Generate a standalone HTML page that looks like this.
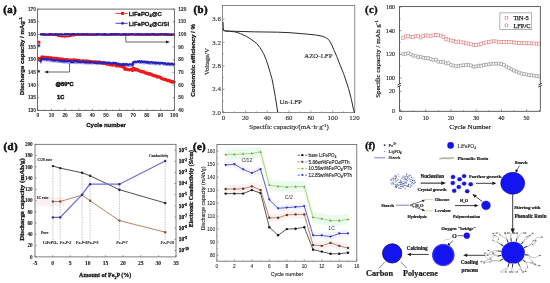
<!DOCTYPE html>
<html><head><meta charset="utf-8"><style>
html,body{margin:0;padding:0;background:#fff;overflow:hidden}
svg{display:block;filter:blur(0.35px)}
</style></head><body>
<svg width="550" height="283" viewBox="0 0 550 283">
<rect width="550" height="283" fill="#fff"/>
<text x="3.3" y="12.9" style="font-family:'Liberation Serif',serif;font-size:10.8px;font-weight:bold;stroke:#111;stroke-width:0.6px" text-anchor="start" fill="#111" letter-spacing="0.4">(a)</text>
<polyline points="40.62,34.65 41.3,34.83 41.99,34.73 42.67,34.87 43.35,34.88 44.03,34.54 44.71,34.51 45.39,35.01 46.07,34.66 46.75,34.65 47.43,35.1 48.11,34.79 48.8,35.01 49.48,34.79 50.16,34.89 50.84,34.6 51.52,34.89 52.2,35.03 52.88,34.82 53.56,34.95 54.24,34.91 54.92,34.54 55.61,34.96 56.29,35.22 56.97,35.26 57.65,35.28 58.33,35.94 59.01,35.85 59.69,36.12 60.37,36.32 61.05,36.32 61.73,36.52 62.42,36.27 63.1,36.57 63.78,36.39 64.46,36.71 65.14,36.68 65.82,36.2 66.5,36.2 67.18,36.22 67.86,36.61 68.55,36.23 69.23,36.27 69.91,35.98 70.59,35.99 71.27,35.79 71.95,35.63 72.63,35.61 73.31,35.43 73.99,35.4 74.67,34.91 75.36,35.06 76.04,35.02 76.72,35.1 77.4,34.91 78.08,34.6 78.76,35.02 79.44,35.08 80.12,35.05 80.8,34.85 81.48,34.93 82.16,34.63 82.85,35 83.53,34.85 84.21,34.68 84.89,34.54 85.57,35.02 86.25,35.1 86.93,34.56 87.61,34.99 88.29,34.75 88.97,34.6 89.66,34.68 90.34,34.97 91.02,35.03 91.7,34.53 92.38,34.87 93.06,34.53 93.74,34.94 94.42,34.7 95.1,35.03 95.78,35.09 96.47,34.81 97.15,35.1 97.83,34.69 98.51,34.55 99.19,34.86 99.87,34.52 100.55,34.62 101.23,34.75 101.91,34.87 102.59,34.6 103.28,34.53 103.96,35.03 104.64,34.69 105.32,35.08 106,35.04 106.68,34.73 107.36,34.78 108.04,34.82 108.72,34.89 109.41,34.86 110.09,34.84 110.77,34.88 111.45,35.07 112.13,34.81 112.81,34.76 113.49,34.94 114.17,34.65 114.85,34.69 115.53,35.09 116.22,34.82 116.9,34.83 117.58,34.51 118.26,34.75 118.94,34.85 119.62,34.52 120.3,34.87 120.98,34.88 121.66,34.54 122.34,34.88 123.03,34.78 123.71,34.91 124.39,34.72 125.07,34.93 125.75,34.95 126.43,34.52 127.11,34.54 127.79,34.91 128.47,35.08 129.15,34.66 129.84,34.78 130.52,34.86 131.2,34.7 131.88,34.72 132.56,34.69 133.24,34.73 133.92,34.86 134.6,34.69 135.28,34.73 135.96,34.97 136.65,34.52 137.33,34.85 138.01,34.95 138.69,34.69 139.37,34.64 140.05,34.99 140.73,34.65 141.41,34.62 142.09,34.77 142.77,34.92 143.46,34.57 144.14,34.7 144.82,34.71 145.5,35 146.18,34.77 146.86,35.02 147.54,34.61 148.22,34.71 148.9,34.9 149.58,35.04 150.27,34.78 150.95,34.64 151.63,34.58 152.31,34.82 152.99,34.62 153.67,34.99 154.35,35.01 155.03,34.62 155.71,34.67 156.39,34.99 157.08,34.89 157.76,34.99 158.44,34.71 159.12,34.58 159.8,34.68 160.48,34.98 161.16,34.67 161.84,34.71 162.52,34.76 163.2,34.76 163.89,34.75 164.57,35.06 165.25,34.6 165.93,34.51 166.61,35.07 167.29,35.03 167.97,35.1 168.65,34.77 169.33,35.07 170.01,35.06 170.7,34.64 171.38,34.95 172.06,35.01 172.74,34.9 173.42,34.82 174.1,34.68" stroke="#e8141e" stroke-width="2.0" fill="none" stroke-linejoin="round" stroke-linecap="round" />
<polyline points="40.62,34.12 41.3,34.04 41.99,33.93 42.67,34.3 43.35,34.09 44.03,34.45 44.71,33.92 45.39,34.52 46.07,34.37 46.75,34.53 47.43,34.51 48.11,34.51 48.8,34.29 49.48,33.89 50.16,34.41 50.84,34.01 51.52,34.09 52.2,34.35 52.88,34.25 53.56,34.17 54.24,34.54 54.92,34.31 55.61,34.12 56.29,34.06 56.97,34.49 57.65,34.22 58.33,34.43 59.01,34.13 59.69,34.02 60.37,34.26 61.05,34.46 61.73,34 62.42,34.44 63.1,34.53 63.78,34.45 64.46,34.46 65.14,33.89 65.82,34.33 66.5,34.49 67.18,33.92 67.86,34.08 68.55,34.07 69.23,34.25 69.91,34.18 70.59,34.22 71.27,34.43 71.95,33.89 72.63,33.92 73.31,33.97 73.99,33.97 74.67,33.93 75.36,34.57 76.04,34.48 76.72,33.95 77.4,34.24 78.08,34.11 78.76,34.11 79.44,34.13 80.12,34.34 80.8,34.3 81.48,34.14 82.16,34.02 82.85,34.12 83.53,33.97 84.21,34.27 84.89,34.39 85.57,34.15 86.25,33.94 86.93,34.01 87.61,34.15 88.29,34.31 88.97,34.43 89.66,34.15 90.34,34.45 91.02,34.32 91.7,34.19 92.38,34.15 93.06,34.23 93.74,34.38 94.42,34.18 95.1,34.37 95.78,34.21 96.47,34.06 97.15,34.26 97.83,34.37 98.51,33.94 99.19,34.18 99.87,34.18 100.55,34.5 101.23,34.54 101.91,34.15 102.59,34.51 103.28,34.44 103.96,34.07 104.64,34.21 105.32,33.97 106,34.45 106.68,34.35 107.36,34.51 108.04,34.44 108.72,34.35 109.41,34.4 110.09,34.28 110.77,33.96 111.45,34.3 112.13,33.89 112.81,33.99 113.49,34.43 114.17,33.92 114.85,33.95 115.53,33.95 116.22,34.5 116.9,34.01 117.58,33.9 118.26,34.47 118.94,33.97 119.62,34.48 120.3,34.36 120.98,34.47 121.66,34.55 122.34,34.29 123.03,34.44 123.71,33.91 124.39,34.42 125.07,34.24 125.75,34.39 126.43,33.96 127.11,34.41 127.79,34.54 128.47,33.93 129.15,34.11 129.84,34.28 130.52,34.46 131.2,34.05 131.88,34.01 132.56,34.06 133.24,34.32 133.92,34.41 134.6,34.16 135.28,34.14 135.96,34.16 136.65,34.13 137.33,34.18 138.01,33.94 138.69,34.24 139.37,34.57 140.05,34.17 140.73,34.41 141.41,34 142.09,34.37 142.77,34.41 143.46,34.36 144.14,34.25 144.82,34.22 145.5,34.34 146.18,34.51 146.86,33.99 147.54,33.95 148.22,34.41 148.9,34.53 149.58,34.25 150.27,34.2 150.95,34.39 151.63,34.02 152.31,34.07 152.99,34.02 153.67,34.29 154.35,34.11 155.03,34.05 155.71,34.37 156.39,34.55 157.08,34.09 157.76,34.38 158.44,34.17 159.12,34.48 159.8,34.29 160.48,34.07 161.16,34.04 161.84,33.9 162.52,34.22 163.2,34.15 163.89,34.01 164.57,34.14 165.25,34.11 165.93,34.43 166.61,33.99 167.29,34.58 167.97,34.22 168.65,34.3 169.33,34.21 170.01,34.47 170.7,34.46 171.38,34.28 172.06,34.22 172.74,34.39 173.42,34.48 174.1,34.17" stroke="#2222b4" stroke-width="2.0" fill="none" stroke-linejoin="round" stroke-linecap="round" />
<polyline points="40.62,63.16 41.3,61.82 41.99,60.41 42.67,60.3 43.35,60.38 44.03,60.84 44.71,60.88 45.39,61.18 46.07,61.18 46.75,60.76 47.43,60.8 48.11,60.93 48.8,60.95 49.48,61.44 50.16,61.64 50.84,61.74 51.52,61.3 52.2,61.87 52.88,61.5 53.56,61.67 54.24,61.99 54.92,61.55 55.61,61.63 56.29,62.3 56.97,61.94 57.65,62.07 58.33,62.32 59.01,62.48 59.69,62.02 60.37,62.36 61.05,62.51 61.73,62.63 62.42,62.48 63.1,62.86 63.78,63.23 64.46,62.86 65.14,63 65.82,62.69 66.5,62.84 67.18,63.18 67.86,62.76 68.55,63.41 69.23,63.45 69.91,62.82 70.59,63.53 71.27,63.1 71.95,63.44 72.63,63.45 73.31,63.11 73.99,63.44 74.67,63.45 75.36,63.59 76.04,63.19 76.72,63.6 77.4,63.79 78.08,63.59 78.76,63.5 79.44,63.19 80.12,63.52 80.8,63.43 81.48,63.75 82.16,63.75 82.85,63.68 83.53,63.4 84.21,63.8 84.89,63.81 85.57,63.47 86.25,64.07 86.93,63.9 87.61,63.5 88.29,64.18 88.97,63.57 89.66,63.75 90.34,64.08 91.02,64.01 91.7,64 92.38,64.1 93.06,63.97 93.74,63.88 94.42,63.8 95.1,63.74 95.78,64.28 96.47,64.34 97.15,64.19 97.83,64.38 98.51,64.1 99.19,64.05 99.87,64.17 100.55,64.58 101.23,63.95 101.91,64.34 102.59,64.16 103.28,64.6 103.96,64.3 104.64,64.3 105.32,64.39 106,64.52 106.68,64.73 107.36,64.42 108.04,64.84 108.72,64.28 109.41,64.43 110.09,64.32 110.77,64.36 111.45,64.91 112.13,64.9 112.81,64.49 113.49,64.52 114.17,64.73 114.85,65.01 115.53,65.1 116.22,65.07 116.9,64.97 117.58,65.52 118.26,65.75 118.94,65.61 119.62,65.9 120.3,65.96 120.98,65.69 121.66,65.76 122.34,66.21 123.03,65.63 123.71,66.28 124.39,66.37 125.07,66.44 125.75,66.02 126.43,66.18 127.11,66.23 127.79,66.29 128.47,66.59 129.15,66.39 129.84,66.1 130.52,66.58 131.2,66.3 131.88,66.42 132.56,66.54 133.24,63.84 133.92,64.26 134.6,63.99 135.28,63.66 135.96,63.49 136.65,63.25 137.33,62.85 138.01,62.93 138.69,62.85 139.37,63.27 140.05,63.44 140.73,63.33 141.41,63.48 142.09,63.84 142.77,63.84 143.46,63.29 144.14,63.86 144.82,63.78 145.5,63.37 146.18,63.67 146.86,63.62 147.54,63.54 148.22,63.96 148.9,64.33 149.58,63.89 150.27,64.38 150.95,64.29 151.63,63.89 152.31,64.52 152.99,64.37 153.67,64.68 154.35,64.56 155.03,64.63 155.71,64.36 156.39,64.78 157.08,64.94 157.76,64.93 158.44,64.64 159.12,64.95 159.8,64.78 160.48,64.53 161.16,64.53 161.84,64.61 162.52,64.76 163.2,64.77 163.89,65.09 164.57,65.31 165.25,65.23 165.93,65.19 166.61,65.42 167.29,65.19 167.97,65.37 168.65,65.66 169.33,65.42 170.01,65.3 170.7,65.92 171.38,65.83 172.06,65.6 172.74,65.65 173.42,65.83 174.1,65.93" stroke="#9090e0" stroke-width="1.2" fill="none" stroke-linejoin="round" stroke-linecap="round" opacity="0.8"/>
<polyline points="40.62,59.47 41.3,57.99 41.99,56.93 42.67,57.58 43.35,57.01 44.03,57.41 44.71,57.22 45.39,57.31 46.07,57.34 46.75,57.65 47.43,57.49 48.11,57.43 48.8,57.59 49.48,57.72 50.16,58.12 50.84,57.76 51.52,57.8 52.2,58.31 52.88,58.34 53.56,58.71 54.24,58.14 54.92,58.56 55.61,58.63 56.29,58.34 56.97,59.35 57.65,58.68 58.33,58.64 59.01,59.09 59.69,58.86 60.37,59.39 61.05,59.19 61.73,59.04 62.42,59.05 63.1,59.8 63.78,59.42 64.46,60.01 65.14,59.72 65.82,60.23 66.5,59.65 67.18,59.65 67.86,59.72 68.55,60.32 69.23,60.18 69.91,59.95 70.59,59.75 71.27,60.39 71.95,60.73 72.63,60.4 73.31,59.86 73.99,59.94 74.67,60.05 75.36,60.18 76.04,60.1 76.72,60.16 77.4,60.82 78.08,61.11 78.76,60.46 79.44,61.29 80.12,60.84 80.8,61.22 81.48,61.38 82.16,61.46 82.85,60.6 83.53,60.92 84.21,61.28 84.89,61.67 85.57,60.86 86.25,61.11 86.93,61.72 87.61,61.04 88.29,61.36 88.97,61.36 89.66,61.75 90.34,62.05 91.02,61.35 91.7,61.97 92.38,62.01 93.06,62.16 93.74,61.93 94.42,62.35 95.1,61.84 95.78,61.94 96.47,61.81 97.15,62.41 97.83,62.16 98.51,62 99.19,61.95 99.87,62.63 100.55,62.64 101.23,62.87 101.91,62.68 102.59,62.9 103.28,62.7 103.96,63.38 104.64,62.82 105.32,63.39 106,63.81 106.68,63.85 107.36,63.4 108.04,63.67 108.72,64.4 109.41,64.32 110.09,64.69 110.77,64.81 111.45,64.51 112.13,65.09 112.81,65.05 113.49,64.78 114.17,64.94 114.85,64.77 115.53,65.22 116.22,65.9 116.9,65.18 117.58,65.77 118.26,65.44 118.94,65.54 119.62,66.23 120.3,65.95 120.98,65.88 121.66,66.11 122.34,66.73 123.03,66.8 123.71,66.35 124.39,68.47 125.07,69.33 125.75,68.71 126.43,69.18 127.11,69.17 127.79,69.65 128.47,69.6 129.15,69.92 129.84,69.79 130.52,69.57 131.2,69.68 131.88,69.71 132.56,70.59 133.24,68.23 133.92,68.37 134.6,69.54 135.28,69 135.96,69.92 136.65,69.34 137.33,69.95 138.01,69.93 138.69,70.77 139.37,70.78 140.05,71.03 140.73,71.38 141.41,71.72 142.09,71.42 142.77,71.91 143.46,71.98 144.14,71.87 144.82,72.82 145.5,72.81 146.18,73.26 146.86,72.88 147.54,73.44 148.22,73.59 148.9,74.08 149.58,73.66 150.27,74.16 150.95,74.52 151.63,74.34 152.31,75.05 152.99,75.46 153.67,75.37 154.35,75.83 155.03,76.01 155.71,75.85 156.39,76.21 157.08,77.09 157.76,76.65 158.44,76.98 159.12,76.86 159.8,77.22 160.48,77.4 161.16,78.39 161.84,78.41 162.52,78.79 163.2,79.13 163.89,78.98 164.57,79.53 165.25,79.36 165.93,79.47 166.61,80.23 167.29,80.41 167.97,80.69 168.65,80.45 169.33,80.97 170.01,80.83 170.7,81.65 171.38,81.8 172.06,81.4 172.74,82.27 173.42,81.75 174.1,81.89" stroke="#ee1a1a" stroke-width="3.2" fill="none" stroke-linejoin="round" stroke-linecap="round" />
<polyline points="40.62,61.47 41.3,59.56 41.99,58.75 42.67,58.94 43.35,58.48 44.03,59.19 44.71,58.84 45.39,59.06 46.07,59.05 46.75,59.49 47.43,59.57 48.11,59.23 48.8,59.14 49.48,59.39 50.16,59.57 50.84,59.34 51.52,59.49 52.2,60.11 52.88,60.13 53.56,60.46 54.24,60.54 54.92,60.52 55.61,60.14 56.29,60.03 56.97,60.24 57.65,60.45 58.33,60.58 59.01,60.67 59.69,60.59 60.37,61.11 61.05,60.67 61.73,60.91 62.42,61.36 63.1,61.37 63.78,60.99 64.46,61.01 65.14,61.55 65.82,60.85 66.5,60.99 67.18,61.37 67.86,61.4 68.55,61.1 69.23,61.02 69.91,61.18 70.59,61.72 71.27,61.47 71.95,61.95 72.63,61.81 73.31,62 73.99,61.18 74.67,61.34 75.36,61.21 76.04,61.61 76.72,61.55 77.4,61.32 78.08,61.79 78.76,61.41 79.44,61.63 80.12,61.6 80.8,62.12 81.48,61.8 82.16,61.69 82.85,61.52 83.53,61.89 84.21,62.09 84.89,62.16 85.57,62.4 86.25,62.33 86.93,61.85 87.61,61.78 88.29,62.36 88.97,62.42 89.66,62.19 90.34,62.5 91.02,62.28 91.7,62.06 92.38,61.98 93.06,61.87 93.74,62.46 94.42,62.72 95.1,62.75 95.78,62.38 96.47,62.58 97.15,62.85 97.83,62.77 98.51,62.6 99.19,62.46 99.87,62.58 100.55,62.29 101.23,62.33 101.91,62.8 102.59,63.11 103.28,62.73 103.96,62.63 104.64,62.61 105.32,62.72 106,63.06 106.68,62.77 107.36,63.25 108.04,62.55 108.72,62.72 109.41,62.94 110.09,62.86 110.77,63.28 111.45,63.29 112.13,63.41 112.81,63.14 113.49,62.65 114.17,63.16 114.85,63.16 115.53,63.13 116.22,62.97 116.9,63.38 117.58,64.48 118.26,63.77 118.94,64.31 119.62,64.07 120.3,64.22 120.98,64.59 121.66,64.67 122.34,64.41 123.03,64.03 123.71,64.71 124.39,64.07 125.07,64.28 125.75,64.71 126.43,64.27 127.11,64.25 127.79,64.89 128.47,64.91 129.15,64.37 129.84,64.47 130.52,64.39 131.2,64.28 131.88,64.41 132.56,65.1 133.24,62.16 133.92,62.1 134.6,61.89 135.28,61.59 135.96,61.8 136.65,61.8 137.33,61.7 138.01,61.32 138.69,61.81 139.37,61.13 140.05,61.43 140.73,62.09 141.41,61.34 142.09,61.57 142.77,61.81 143.46,61.67 144.14,61.97 144.82,61.57 145.5,61.79 146.18,62.49 146.86,61.81 147.54,62.55 148.22,61.94 148.9,62.73 149.58,62.49 150.27,62.52 150.95,62.11 151.63,62.08 152.31,62.77 152.99,62.29 153.67,62.36 154.35,62.98 155.03,63.08 155.71,62.38 156.39,63.25 157.08,62.92 157.76,62.84 158.44,62.64 159.12,62.94 159.8,63.53 160.48,62.95 161.16,62.86 161.84,62.93 162.52,62.96 163.2,63.21 163.89,63.77 164.57,63.07 165.25,63.22 165.93,63.94 166.61,64.05 167.29,64.08 167.97,63.47 168.65,63.62 169.33,64.21 170.01,63.84 170.7,64.09 171.38,63.79 172.06,63.57 172.74,63.92 173.42,64.33 174.1,64.41" stroke="#2424bc" stroke-width="2.3" fill="none" stroke-linejoin="round" stroke-linecap="round" />
<rect x="37.7" y="40.8" width="2.6" height="2.8" fill="#e81818"/>
<circle cx="39" cy="45.5" r="1.3" fill="#2828c0"/>
<circle cx="38.6" cy="71.2" r="1.3" fill="#2828c0"/>
<rect x="37.8" y="57" width="2.2" height="4.4" fill="#e82020"/>
<line x1="69.6" y1="63.9" x2="69.6" y2="72" stroke="#333" stroke-width="0.75" />
<line x1="69.6" y1="72" x2="46" y2="72" stroke="#333" stroke-width="0.75" />
<path d="M44.2,72 L48.2,70.5 L48.2,73.5 Z" fill="#222"/>
<line x1="125.9" y1="35.5" x2="125.9" y2="42" stroke="#333" stroke-width="0.75" />
<line x1="125.9" y1="42" x2="167.5" y2="42" stroke="#333" stroke-width="0.75" />
<path d="M170,42 L166,40.5 L166,43.5 Z" fill="#222"/>
<rect x="37.5" y="9.1" width="136.9" height="101.3" stroke="#555" stroke-width="0.85" fill="none"/>
<line x1="37.5" y1="110.4" x2="39.3" y2="110.4" stroke="#555" stroke-width="0.6" />
<text x="35.9" y="112.1" style="font-family:'Liberation Sans',sans-serif;font-size:4.8px;font-weight:bold;stroke:#333;stroke-width:0.1px" text-anchor="end" fill="#333" >130</text>
<line x1="37.5" y1="97.74" x2="39.3" y2="97.74" stroke="#555" stroke-width="0.6" />
<text x="35.9" y="99.44" style="font-family:'Liberation Sans',sans-serif;font-size:4.8px;font-weight:bold;stroke:#333;stroke-width:0.1px" text-anchor="end" fill="#333" >135</text>
<line x1="37.5" y1="85.08" x2="39.3" y2="85.08" stroke="#555" stroke-width="0.6" />
<text x="35.9" y="86.78" style="font-family:'Liberation Sans',sans-serif;font-size:4.8px;font-weight:bold;stroke:#333;stroke-width:0.1px" text-anchor="end" fill="#333" >140</text>
<line x1="37.5" y1="72.41" x2="39.3" y2="72.41" stroke="#555" stroke-width="0.6" />
<text x="35.9" y="74.11" style="font-family:'Liberation Sans',sans-serif;font-size:4.8px;font-weight:bold;stroke:#333;stroke-width:0.1px" text-anchor="end" fill="#333" >145</text>
<line x1="37.5" y1="59.75" x2="39.3" y2="59.75" stroke="#555" stroke-width="0.6" />
<text x="35.9" y="61.45" style="font-family:'Liberation Sans',sans-serif;font-size:4.8px;font-weight:bold;stroke:#333;stroke-width:0.1px" text-anchor="end" fill="#333" >150</text>
<line x1="37.5" y1="47.09" x2="39.3" y2="47.09" stroke="#555" stroke-width="0.6" />
<text x="35.9" y="48.79" style="font-family:'Liberation Sans',sans-serif;font-size:4.8px;font-weight:bold;stroke:#333;stroke-width:0.1px" text-anchor="end" fill="#333" >155</text>
<line x1="37.5" y1="34.43" x2="39.3" y2="34.43" stroke="#555" stroke-width="0.6" />
<text x="35.9" y="36.13" style="font-family:'Liberation Sans',sans-serif;font-size:4.8px;font-weight:bold;stroke:#333;stroke-width:0.1px" text-anchor="end" fill="#333" >160</text>
<line x1="37.5" y1="21.76" x2="39.3" y2="21.76" stroke="#555" stroke-width="0.6" />
<text x="35.9" y="23.46" style="font-family:'Liberation Sans',sans-serif;font-size:4.8px;font-weight:bold;stroke:#333;stroke-width:0.1px" text-anchor="end" fill="#333" >165</text>
<line x1="37.5" y1="9.1" x2="39.3" y2="9.1" stroke="#555" stroke-width="0.6" />
<text x="35.9" y="10.8" style="font-family:'Liberation Sans',sans-serif;font-size:4.8px;font-weight:bold;stroke:#333;stroke-width:0.1px" text-anchor="end" fill="#333" >170</text>
<line x1="172.6" y1="110.4" x2="174.4" y2="110.4" stroke="#555" stroke-width="0.6" />
<text x="178.3" y="112.1" style="font-family:'Liberation Sans',sans-serif;font-size:4.8px;font-weight:bold;stroke:#333;stroke-width:0.1px" text-anchor="start" fill="#333" >40</text>
<line x1="172.6" y1="97.74" x2="174.4" y2="97.74" stroke="#555" stroke-width="0.6" />
<text x="178.3" y="99.44" style="font-family:'Liberation Sans',sans-serif;font-size:4.8px;font-weight:bold;stroke:#333;stroke-width:0.1px" text-anchor="start" fill="#333" >50</text>
<line x1="172.6" y1="85.08" x2="174.4" y2="85.08" stroke="#555" stroke-width="0.6" />
<text x="178.3" y="86.78" style="font-family:'Liberation Sans',sans-serif;font-size:4.8px;font-weight:bold;stroke:#333;stroke-width:0.1px" text-anchor="start" fill="#333" >60</text>
<line x1="172.6" y1="72.41" x2="174.4" y2="72.41" stroke="#555" stroke-width="0.6" />
<text x="178.3" y="74.11" style="font-family:'Liberation Sans',sans-serif;font-size:4.8px;font-weight:bold;stroke:#333;stroke-width:0.1px" text-anchor="start" fill="#333" >70</text>
<line x1="172.6" y1="59.75" x2="174.4" y2="59.75" stroke="#555" stroke-width="0.6" />
<text x="178.3" y="61.45" style="font-family:'Liberation Sans',sans-serif;font-size:4.8px;font-weight:bold;stroke:#333;stroke-width:0.1px" text-anchor="start" fill="#333" >80</text>
<line x1="172.6" y1="47.09" x2="174.4" y2="47.09" stroke="#555" stroke-width="0.6" />
<text x="178.3" y="48.79" style="font-family:'Liberation Sans',sans-serif;font-size:4.8px;font-weight:bold;stroke:#333;stroke-width:0.1px" text-anchor="start" fill="#333" >90</text>
<line x1="172.6" y1="34.43" x2="174.4" y2="34.43" stroke="#555" stroke-width="0.6" />
<text x="178.3" y="36.13" style="font-family:'Liberation Sans',sans-serif;font-size:4.8px;font-weight:bold;stroke:#333;stroke-width:0.1px" text-anchor="start" fill="#333" >100</text>
<line x1="172.6" y1="21.76" x2="174.4" y2="21.76" stroke="#555" stroke-width="0.6" />
<text x="178.3" y="23.46" style="font-family:'Liberation Sans',sans-serif;font-size:4.8px;font-weight:bold;stroke:#333;stroke-width:0.1px" text-anchor="start" fill="#333" >110</text>
<line x1="172.6" y1="9.1" x2="174.4" y2="9.1" stroke="#555" stroke-width="0.6" />
<text x="178.3" y="10.8" style="font-family:'Liberation Sans',sans-serif;font-size:4.8px;font-weight:bold;stroke:#333;stroke-width:0.1px" text-anchor="start" fill="#333" >120</text>
<line x1="37.9" y1="110.4" x2="37.9" y2="108.6" stroke="#555" stroke-width="0.6" />
<text x="37.9" y="116.6" style="font-family:'Liberation Sans',sans-serif;font-size:4.8px;font-weight:bold;stroke:#333;stroke-width:0.1px" text-anchor="middle" fill="#333" >0</text>
<line x1="51.52" y1="110.4" x2="51.52" y2="108.6" stroke="#555" stroke-width="0.6" />
<text x="51.52" y="116.6" style="font-family:'Liberation Sans',sans-serif;font-size:4.8px;font-weight:bold;stroke:#333;stroke-width:0.1px" text-anchor="middle" fill="#333" >10</text>
<line x1="65.14" y1="110.4" x2="65.14" y2="108.6" stroke="#555" stroke-width="0.6" />
<text x="65.14" y="116.6" style="font-family:'Liberation Sans',sans-serif;font-size:4.8px;font-weight:bold;stroke:#333;stroke-width:0.1px" text-anchor="middle" fill="#333" >20</text>
<line x1="78.76" y1="110.4" x2="78.76" y2="108.6" stroke="#555" stroke-width="0.6" />
<text x="78.76" y="116.6" style="font-family:'Liberation Sans',sans-serif;font-size:4.8px;font-weight:bold;stroke:#333;stroke-width:0.1px" text-anchor="middle" fill="#333" >30</text>
<line x1="92.38" y1="110.4" x2="92.38" y2="108.6" stroke="#555" stroke-width="0.6" />
<text x="92.38" y="116.6" style="font-family:'Liberation Sans',sans-serif;font-size:4.8px;font-weight:bold;stroke:#333;stroke-width:0.1px" text-anchor="middle" fill="#333" >40</text>
<line x1="106" y1="110.4" x2="106" y2="108.6" stroke="#555" stroke-width="0.6" />
<text x="106" y="116.6" style="font-family:'Liberation Sans',sans-serif;font-size:4.8px;font-weight:bold;stroke:#333;stroke-width:0.1px" text-anchor="middle" fill="#333" >50</text>
<line x1="119.62" y1="110.4" x2="119.62" y2="108.6" stroke="#555" stroke-width="0.6" />
<text x="119.62" y="116.6" style="font-family:'Liberation Sans',sans-serif;font-size:4.8px;font-weight:bold;stroke:#333;stroke-width:0.1px" text-anchor="middle" fill="#333" >60</text>
<line x1="133.24" y1="110.4" x2="133.24" y2="108.6" stroke="#555" stroke-width="0.6" />
<text x="133.24" y="116.6" style="font-family:'Liberation Sans',sans-serif;font-size:4.8px;font-weight:bold;stroke:#333;stroke-width:0.1px" text-anchor="middle" fill="#333" >70</text>
<line x1="146.86" y1="110.4" x2="146.86" y2="108.6" stroke="#555" stroke-width="0.6" />
<text x="146.86" y="116.6" style="font-family:'Liberation Sans',sans-serif;font-size:4.8px;font-weight:bold;stroke:#333;stroke-width:0.1px" text-anchor="middle" fill="#333" >80</text>
<line x1="160.48" y1="110.4" x2="160.48" y2="108.6" stroke="#555" stroke-width="0.6" />
<text x="160.48" y="116.6" style="font-family:'Liberation Sans',sans-serif;font-size:4.8px;font-weight:bold;stroke:#333;stroke-width:0.1px" text-anchor="middle" fill="#333" >90</text>
<line x1="174.1" y1="110.4" x2="174.1" y2="108.6" stroke="#555" stroke-width="0.6" />
<text x="174.1" y="116.6" style="font-family:'Liberation Sans',sans-serif;font-size:4.8px;font-weight:bold;stroke:#333;stroke-width:0.1px" text-anchor="middle" fill="#333" >100</text>
<line x1="44.71" y1="110.4" x2="44.71" y2="109.4" stroke="#555" stroke-width="0.5" />
<line x1="58.33" y1="110.4" x2="58.33" y2="109.4" stroke="#555" stroke-width="0.5" />
<line x1="71.95" y1="110.4" x2="71.95" y2="109.4" stroke="#555" stroke-width="0.5" />
<line x1="85.57" y1="110.4" x2="85.57" y2="109.4" stroke="#555" stroke-width="0.5" />
<line x1="99.19" y1="110.4" x2="99.19" y2="109.4" stroke="#555" stroke-width="0.5" />
<line x1="112.81" y1="110.4" x2="112.81" y2="109.4" stroke="#555" stroke-width="0.5" />
<line x1="126.43" y1="110.4" x2="126.43" y2="109.4" stroke="#555" stroke-width="0.5" />
<line x1="140.05" y1="110.4" x2="140.05" y2="109.4" stroke="#555" stroke-width="0.5" />
<line x1="153.67" y1="110.4" x2="153.67" y2="109.4" stroke="#555" stroke-width="0.5" />
<line x1="167.29" y1="110.4" x2="167.29" y2="109.4" stroke="#555" stroke-width="0.5" />
<text x="106.1" y="126.8" style="font-family:'Liberation Sans',sans-serif;font-size:6.0px;font-weight:bold;stroke:#1a1a1a;stroke-width:0.3px" text-anchor="middle" fill="#1a1a1a" >Cycle number</text>
<text transform="translate(24.2,56.2) rotate(-90)" style="font-family:'Liberation Sans',sans-serif;font-size:6.1px;font-weight:bold;stroke:#1a1a1a;stroke-width:0.3px" text-anchor="middle" fill="#1a1a1a">Discharge capacity / mAg<tspan dy="-1.9" style="font-size:4.3px">-1</tspan></text>
<text transform="translate(195.4,60.4) rotate(-90)" style="font-family:'Liberation Sans',sans-serif;font-size:6.2px;font-weight:bold;stroke:#1a1a1a;stroke-width:0.3px" text-anchor="middle" fill="#1a1a1a">Coulombic efficiency / %</text>
<text x="55.6" y="86.4" style="font-family:'Liberation Sans',sans-serif;font-size:5.6px;font-weight:bold;stroke:#111;stroke-width:0.45px" text-anchor="start" fill="#111" >@60°C</text>
<text x="57.1" y="98.5" style="font-family:'Liberation Sans',sans-serif;font-size:5.6px;font-weight:bold;stroke:#111;stroke-width:0.45px" text-anchor="start" fill="#111" >1C</text>
<line x1="115.6" y1="13.4" x2="127.7" y2="13.4" stroke="#ee2a2a" stroke-width="0.9" />
<rect x="121.1" y="11.9" width="3" height="3" fill="#e81818"/>
<text x="128.7" y="15.6" style="font-family:'Liberation Sans',sans-serif;font-size:5.95px;font-weight:bold;stroke:#1a1a1a;stroke-width:0.3px" text-anchor="start" fill="#1a1a1a" >LiFePO<tspan dy="1.2" style="font-size:4px">4</tspan><tspan dy="-1.2">@C</tspan></text>
<line x1="115.6" y1="23.3" x2="127.7" y2="23.3" stroke="#3030c0" stroke-width="0.9" />
<circle cx="122.6" cy="23.3" r="1.4" fill="#2626c0"/>
<text x="128.7" y="25.5" style="font-family:'Liberation Sans',sans-serif;font-size:5.95px;font-weight:bold;stroke:#1a1a1a;stroke-width:0.3px" text-anchor="start" fill="#1a1a1a" >LiFePO<tspan dy="1.2" style="font-size:4px">4</tspan><tspan dy="-1.2">@C/Si</tspan></text>
<text x="193.6" y="12.9" style="font-family:'Liberation Serif',serif;font-size:10.8px;font-weight:bold;stroke:#111;stroke-width:0.6px" text-anchor="start" fill="#111" letter-spacing="0.4">(b)</text>
<rect x="222.6" y="5.6" width="132.2" height="106.9" stroke="#666" stroke-width="0.75" fill="none"/>
<line x1="222.6" y1="112.6" x2="224.6" y2="112.6" stroke="#666" stroke-width="0.6" />
<text x="220.8" y="114.8" style="font-family:'Liberation Serif',serif;font-size:6.8px;font-weight:normal;stroke:#333;stroke-width:0.16px" text-anchor="end" fill="#333" >2.0</text>
<line x1="222.6" y1="89.2" x2="224.6" y2="89.2" stroke="#666" stroke-width="0.6" />
<text x="220.8" y="91.4" style="font-family:'Liberation Serif',serif;font-size:6.8px;font-weight:normal;stroke:#333;stroke-width:0.16px" text-anchor="end" fill="#333" >2.4</text>
<line x1="222.6" y1="65.8" x2="224.6" y2="65.8" stroke="#666" stroke-width="0.6" />
<text x="220.8" y="68" style="font-family:'Liberation Serif',serif;font-size:6.8px;font-weight:normal;stroke:#333;stroke-width:0.16px" text-anchor="end" fill="#333" >2.8</text>
<line x1="222.6" y1="42.4" x2="224.6" y2="42.4" stroke="#666" stroke-width="0.6" />
<text x="220.8" y="44.6" style="font-family:'Liberation Serif',serif;font-size:6.8px;font-weight:normal;stroke:#333;stroke-width:0.16px" text-anchor="end" fill="#333" >3.2</text>
<line x1="222.6" y1="19" x2="224.6" y2="19" stroke="#666" stroke-width="0.6" />
<text x="220.8" y="21.2" style="font-family:'Liberation Serif',serif;font-size:6.8px;font-weight:normal;stroke:#333;stroke-width:0.16px" text-anchor="end" fill="#333" >3.6</text>
<line x1="222.6" y1="100.9" x2="223.8" y2="100.9" stroke="#666" stroke-width="0.5" />
<line x1="222.6" y1="77.5" x2="223.8" y2="77.5" stroke="#666" stroke-width="0.5" />
<line x1="222.6" y1="54.1" x2="223.8" y2="54.1" stroke="#666" stroke-width="0.5" />
<line x1="222.6" y1="30.7" x2="223.8" y2="30.7" stroke="#666" stroke-width="0.5" />
<line x1="223.55" y1="112.5" x2="223.55" y2="110.5" stroke="#666" stroke-width="0.6" />
<text x="223.55" y="119.9" style="font-family:'Liberation Serif',serif;font-size:6.9px;font-weight:normal;stroke:#333;stroke-width:0.16px" text-anchor="middle" fill="#333" >0</text>
<line x1="245.38" y1="112.5" x2="245.38" y2="110.5" stroke="#666" stroke-width="0.6" />
<text x="245.38" y="119.9" style="font-family:'Liberation Serif',serif;font-size:6.9px;font-weight:normal;stroke:#333;stroke-width:0.16px" text-anchor="middle" fill="#333" >20</text>
<line x1="267.2" y1="112.5" x2="267.2" y2="110.5" stroke="#666" stroke-width="0.6" />
<text x="267.2" y="119.9" style="font-family:'Liberation Serif',serif;font-size:6.9px;font-weight:normal;stroke:#333;stroke-width:0.16px" text-anchor="middle" fill="#333" >40</text>
<line x1="289.03" y1="112.5" x2="289.03" y2="110.5" stroke="#666" stroke-width="0.6" />
<text x="289.03" y="119.9" style="font-family:'Liberation Serif',serif;font-size:6.9px;font-weight:normal;stroke:#333;stroke-width:0.16px" text-anchor="middle" fill="#333" >60</text>
<line x1="310.85" y1="112.5" x2="310.85" y2="110.5" stroke="#666" stroke-width="0.6" />
<text x="310.85" y="119.9" style="font-family:'Liberation Serif',serif;font-size:6.9px;font-weight:normal;stroke:#333;stroke-width:0.16px" text-anchor="middle" fill="#333" >80</text>
<line x1="332.68" y1="112.5" x2="332.68" y2="110.5" stroke="#666" stroke-width="0.6" />
<text x="332.68" y="119.9" style="font-family:'Liberation Serif',serif;font-size:6.9px;font-weight:normal;stroke:#333;stroke-width:0.16px" text-anchor="middle" fill="#333" >100</text>
<line x1="354.51" y1="112.5" x2="354.51" y2="110.5" stroke="#666" stroke-width="0.6" />
<text x="354.51" y="119.9" style="font-family:'Liberation Serif',serif;font-size:6.9px;font-weight:normal;stroke:#333;stroke-width:0.16px" text-anchor="middle" fill="#333" >120</text>
<line x1="234.46" y1="112.5" x2="234.46" y2="111.3" stroke="#666" stroke-width="0.5" />
<line x1="256.29" y1="112.5" x2="256.29" y2="111.3" stroke="#666" stroke-width="0.5" />
<line x1="278.12" y1="112.5" x2="278.12" y2="111.3" stroke="#666" stroke-width="0.5" />
<line x1="299.94" y1="112.5" x2="299.94" y2="111.3" stroke="#666" stroke-width="0.5" />
<line x1="321.77" y1="112.5" x2="321.77" y2="111.3" stroke="#666" stroke-width="0.5" />
<line x1="343.59" y1="112.5" x2="343.59" y2="111.3" stroke="#666" stroke-width="0.5" />
<text x="289" y="128.5" style="font-family:'Liberation Serif',serif;font-size:6.9px;font-weight:normal;stroke:#333;stroke-width:0.2px" text-anchor="middle" fill="#333" >Specific capacity/(mA·h·g<tspan dy="-2" style="font-size:4.6px">-1</tspan><tspan dy="2">)</tspan></text>
<text transform="translate(208.8,61.5) rotate(-90)" style="font-family:'Liberation Serif',serif;font-size:6.7px;font-weight:normal;stroke:#333;stroke-width:0.2px" text-anchor="middle" fill="#333">Voltage/V</text>
<path d="M223,21.93 L223.22,27.77 L223.65,30.11 L225.18,30.99 L229.54,31.28 L235.1,31.87 L240.44,33.62 L246.76,36.55 L251.34,39.47 L256.79,43.57 L260.06,47.67 L263.55,53.52 L266.06,59.36 L268.56,66.97 L270.42,73.41 L271.94,78.67 L273.58,86.86 L275.32,96.8 L276.63,105 L277.61,112.02" stroke="#2a2a2a" stroke-width="1.0" fill="none" stroke-linejoin="round"/>
<path d="M223,28.94 L223.65,30.41 L225.18,30.99 L233.9,31.28 L255.7,31.87 L277.5,32.16 L290.04,32.69 L306.71,34.09 L315.65,34.97 L321.75,36.08 L325.46,37.43 L328.51,39.42 L330.37,42.11 L331.89,45.09 L334.18,50.59 L336.91,56.79 L340.18,65.21 L343.55,73.58 L346.17,81.01 L348.57,88.67 L351.18,98.56 L353.58,109.79 L354.35,112.6" stroke="#2a2a2a" stroke-width="1.0" fill="none" stroke-linejoin="round"/>
<text x="304.2" y="57.5" style="font-family:'Liberation Serif',serif;font-size:6.9px;font-weight:normal;stroke:#333;stroke-width:0.2px" text-anchor="start" fill="#333" >AZO-LFP</text>
<text x="279.6" y="104.3" style="font-family:'Liberation Serif',serif;font-size:6.8px;font-weight:normal;stroke:#333;stroke-width:0.2px" text-anchor="start" fill="#333" >Un-LFP</text>
<text x="365" y="12.9" style="font-family:'Liberation Serif',serif;font-size:10.8px;font-weight:bold;stroke:#111;stroke-width:0.4px" text-anchor="start" fill="#111" letter-spacing="0.3">(c)</text>
<rect x="401.67" y="36.73" width="2.9" height="2.9" stroke="#e07c7c" stroke-width="0.6" fill="#fff"/>
<rect x="404.19" y="35.07" width="2.9" height="2.9" stroke="#e07c7c" stroke-width="0.6" fill="#fff"/>
<rect x="406.71" y="34.6" width="2.9" height="2.9" stroke="#e07c7c" stroke-width="0.6" fill="#fff"/>
<rect x="409.23" y="35.31" width="2.9" height="2.9" stroke="#e07c7c" stroke-width="0.6" fill="#fff"/>
<rect x="411.75" y="35.67" width="2.9" height="2.9" stroke="#e07c7c" stroke-width="0.6" fill="#fff"/>
<rect x="414.27" y="34.84" width="2.9" height="2.9" stroke="#e07c7c" stroke-width="0.6" fill="#fff"/>
<rect x="416.79" y="34.6" width="2.9" height="2.9" stroke="#e07c7c" stroke-width="0.6" fill="#fff"/>
<rect x="419.31" y="36.02" width="2.9" height="2.9" stroke="#e07c7c" stroke-width="0.6" fill="#fff"/>
<rect x="421.83" y="34.48" width="2.9" height="2.9" stroke="#e07c7c" stroke-width="0.6" fill="#fff"/>
<rect x="424.35" y="33.89" width="2.9" height="2.9" stroke="#e07c7c" stroke-width="0.6" fill="#fff"/>
<rect x="426.87" y="34.13" width="2.9" height="2.9" stroke="#e07c7c" stroke-width="0.6" fill="#fff"/>
<rect x="429.39" y="34.48" width="2.9" height="2.9" stroke="#e07c7c" stroke-width="0.6" fill="#fff"/>
<rect x="431.91" y="33.89" width="2.9" height="2.9" stroke="#e07c7c" stroke-width="0.6" fill="#fff"/>
<rect x="434.43" y="33.65" width="2.9" height="2.9" stroke="#e07c7c" stroke-width="0.6" fill="#fff"/>
<rect x="436.95" y="33.89" width="2.9" height="2.9" stroke="#e07c7c" stroke-width="0.6" fill="#fff"/>
<rect x="439.47" y="34.13" width="2.9" height="2.9" stroke="#e07c7c" stroke-width="0.6" fill="#fff"/>
<rect x="441.99" y="35.55" width="2.9" height="2.9" stroke="#e07c7c" stroke-width="0.6" fill="#fff"/>
<rect x="444.51" y="37.45" width="2.9" height="2.9" stroke="#e07c7c" stroke-width="0.6" fill="#fff"/>
<rect x="447.03" y="38.16" width="2.9" height="2.9" stroke="#e07c7c" stroke-width="0.6" fill="#fff"/>
<rect x="449.55" y="39.1" width="2.9" height="2.9" stroke="#e07c7c" stroke-width="0.6" fill="#fff"/>
<rect x="452.07" y="39.34" width="2.9" height="2.9" stroke="#e07c7c" stroke-width="0.6" fill="#fff"/>
<rect x="454.59" y="40.64" width="2.9" height="2.9" stroke="#e07c7c" stroke-width="0.6" fill="#fff"/>
<rect x="457.11" y="40.05" width="2.9" height="2.9" stroke="#e07c7c" stroke-width="0.6" fill="#fff"/>
<rect x="459.63" y="41" width="2.9" height="2.9" stroke="#e07c7c" stroke-width="0.6" fill="#fff"/>
<rect x="462.15" y="41" width="2.9" height="2.9" stroke="#e07c7c" stroke-width="0.6" fill="#fff"/>
<rect x="464.67" y="41.83" width="2.9" height="2.9" stroke="#e07c7c" stroke-width="0.6" fill="#fff"/>
<rect x="467.19" y="42.18" width="2.9" height="2.9" stroke="#e07c7c" stroke-width="0.6" fill="#fff"/>
<rect x="469.71" y="42.9" width="2.9" height="2.9" stroke="#e07c7c" stroke-width="0.6" fill="#fff"/>
<rect x="472.23" y="43.37" width="2.9" height="2.9" stroke="#e07c7c" stroke-width="0.6" fill="#fff"/>
<rect x="474.75" y="43.61" width="2.9" height="2.9" stroke="#e07c7c" stroke-width="0.6" fill="#fff"/>
<rect x="477.27" y="43.13" width="2.9" height="2.9" stroke="#e07c7c" stroke-width="0.6" fill="#fff"/>
<rect x="479.79" y="42.42" width="2.9" height="2.9" stroke="#e07c7c" stroke-width="0.6" fill="#fff"/>
<rect x="482.31" y="41.59" width="2.9" height="2.9" stroke="#e07c7c" stroke-width="0.6" fill="#fff"/>
<rect x="484.83" y="41" width="2.9" height="2.9" stroke="#e07c7c" stroke-width="0.6" fill="#fff"/>
<rect x="487.35" y="40.41" width="2.9" height="2.9" stroke="#e07c7c" stroke-width="0.6" fill="#fff"/>
<rect x="489.87" y="40.05" width="2.9" height="2.9" stroke="#e07c7c" stroke-width="0.6" fill="#fff"/>
<rect x="492.39" y="39.81" width="2.9" height="2.9" stroke="#e07c7c" stroke-width="0.6" fill="#fff"/>
<rect x="494.91" y="40.05" width="2.9" height="2.9" stroke="#e07c7c" stroke-width="0.6" fill="#fff"/>
<rect x="497.43" y="40.29" width="2.9" height="2.9" stroke="#e07c7c" stroke-width="0.6" fill="#fff"/>
<rect x="499.95" y="40.41" width="2.9" height="2.9" stroke="#e07c7c" stroke-width="0.6" fill="#fff"/>
<rect x="502.47" y="40.53" width="2.9" height="2.9" stroke="#e07c7c" stroke-width="0.6" fill="#fff"/>
<rect x="504.99" y="40.64" width="2.9" height="2.9" stroke="#e07c7c" stroke-width="0.6" fill="#fff"/>
<rect x="507.51" y="40.41" width="2.9" height="2.9" stroke="#e07c7c" stroke-width="0.6" fill="#fff"/>
<rect x="510.03" y="40.76" width="2.9" height="2.9" stroke="#e07c7c" stroke-width="0.6" fill="#fff"/>
<rect x="512.55" y="41" width="2.9" height="2.9" stroke="#e07c7c" stroke-width="0.6" fill="#fff"/>
<rect x="515.07" y="41.24" width="2.9" height="2.9" stroke="#e07c7c" stroke-width="0.6" fill="#fff"/>
<rect x="517.59" y="41.59" width="2.9" height="2.9" stroke="#e07c7c" stroke-width="0.6" fill="#fff"/>
<rect x="520.11" y="41.83" width="2.9" height="2.9" stroke="#e07c7c" stroke-width="0.6" fill="#fff"/>
<rect x="522.63" y="41.71" width="2.9" height="2.9" stroke="#e07c7c" stroke-width="0.6" fill="#fff"/>
<rect x="525.15" y="41.95" width="2.9" height="2.9" stroke="#e07c7c" stroke-width="0.6" fill="#fff"/>
<rect x="527.67" y="41.83" width="2.9" height="2.9" stroke="#e07c7c" stroke-width="0.6" fill="#fff"/>
<rect x="530.19" y="42.07" width="2.9" height="2.9" stroke="#e07c7c" stroke-width="0.6" fill="#fff"/>
<rect x="532.71" y="41.95" width="2.9" height="2.9" stroke="#e07c7c" stroke-width="0.6" fill="#fff"/>
<rect x="535.23" y="42.18" width="2.9" height="2.9" stroke="#e07c7c" stroke-width="0.6" fill="#fff"/>
<rect x="537.75" y="42.18" width="2.9" height="2.9" stroke="#e07c7c" stroke-width="0.6" fill="#fff"/>
<rect x="401.67" y="52.73" width="2.9" height="2.9" rx="0.7" stroke="#7a7a7a" stroke-width="0.6" fill="#fff"/>
<rect x="404.19" y="52.38" width="2.9" height="2.9" rx="0.7" stroke="#7a7a7a" stroke-width="0.6" fill="#fff"/>
<rect x="406.71" y="51.78" width="2.9" height="2.9" rx="0.7" stroke="#7a7a7a" stroke-width="0.6" fill="#fff"/>
<rect x="409.23" y="52.73" width="2.9" height="2.9" rx="0.7" stroke="#7a7a7a" stroke-width="0.6" fill="#fff"/>
<rect x="411.75" y="54.27" width="2.9" height="2.9" rx="0.7" stroke="#7a7a7a" stroke-width="0.6" fill="#fff"/>
<rect x="414.27" y="54.27" width="2.9" height="2.9" rx="0.7" stroke="#7a7a7a" stroke-width="0.6" fill="#fff"/>
<rect x="416.79" y="55.69" width="2.9" height="2.9" rx="0.7" stroke="#7a7a7a" stroke-width="0.6" fill="#fff"/>
<rect x="419.31" y="55.34" width="2.9" height="2.9" rx="0.7" stroke="#7a7a7a" stroke-width="0.6" fill="#fff"/>
<rect x="421.83" y="56.29" width="2.9" height="2.9" rx="0.7" stroke="#7a7a7a" stroke-width="0.6" fill="#fff"/>
<rect x="424.35" y="56.64" width="2.9" height="2.9" rx="0.7" stroke="#7a7a7a" stroke-width="0.6" fill="#fff"/>
<rect x="426.87" y="56.64" width="2.9" height="2.9" rx="0.7" stroke="#7a7a7a" stroke-width="0.6" fill="#fff"/>
<rect x="429.39" y="57.59" width="2.9" height="2.9" rx="0.7" stroke="#7a7a7a" stroke-width="0.6" fill="#fff"/>
<rect x="431.91" y="58.54" width="2.9" height="2.9" rx="0.7" stroke="#7a7a7a" stroke-width="0.6" fill="#fff"/>
<rect x="434.43" y="58.18" width="2.9" height="2.9" rx="0.7" stroke="#7a7a7a" stroke-width="0.6" fill="#fff"/>
<rect x="436.95" y="60.2" width="2.9" height="2.9" rx="0.7" stroke="#7a7a7a" stroke-width="0.6" fill="#fff"/>
<rect x="439.47" y="60.55" width="2.9" height="2.9" rx="0.7" stroke="#7a7a7a" stroke-width="0.6" fill="#fff"/>
<rect x="441.99" y="60.2" width="2.9" height="2.9" rx="0.7" stroke="#7a7a7a" stroke-width="0.6" fill="#fff"/>
<rect x="444.51" y="62.09" width="2.9" height="2.9" rx="0.7" stroke="#7a7a7a" stroke-width="0.6" fill="#fff"/>
<rect x="447.03" y="61.62" width="2.9" height="2.9" rx="0.7" stroke="#7a7a7a" stroke-width="0.6" fill="#fff"/>
<rect x="449.55" y="63.52" width="2.9" height="2.9" rx="0.7" stroke="#7a7a7a" stroke-width="0.6" fill="#fff"/>
<rect x="452.07" y="64.11" width="2.9" height="2.9" rx="0.7" stroke="#7a7a7a" stroke-width="0.6" fill="#fff"/>
<rect x="454.59" y="64.7" width="2.9" height="2.9" rx="0.7" stroke="#7a7a7a" stroke-width="0.6" fill="#fff"/>
<rect x="457.11" y="64.46" width="2.9" height="2.9" rx="0.7" stroke="#7a7a7a" stroke-width="0.6" fill="#fff"/>
<rect x="459.63" y="64.11" width="2.9" height="2.9" rx="0.7" stroke="#7a7a7a" stroke-width="0.6" fill="#fff"/>
<rect x="462.15" y="63.75" width="2.9" height="2.9" rx="0.7" stroke="#7a7a7a" stroke-width="0.6" fill="#fff"/>
<rect x="464.67" y="63.52" width="2.9" height="2.9" rx="0.7" stroke="#7a7a7a" stroke-width="0.6" fill="#fff"/>
<rect x="467.19" y="63.4" width="2.9" height="2.9" rx="0.7" stroke="#7a7a7a" stroke-width="0.6" fill="#fff"/>
<rect x="469.71" y="64.11" width="2.9" height="2.9" rx="0.7" stroke="#7a7a7a" stroke-width="0.6" fill="#fff"/>
<rect x="472.23" y="65.29" width="2.9" height="2.9" rx="0.7" stroke="#7a7a7a" stroke-width="0.6" fill="#fff"/>
<rect x="474.75" y="64.94" width="2.9" height="2.9" rx="0.7" stroke="#7a7a7a" stroke-width="0.6" fill="#fff"/>
<rect x="477.27" y="64.34" width="2.9" height="2.9" rx="0.7" stroke="#7a7a7a" stroke-width="0.6" fill="#fff"/>
<rect x="479.79" y="64.34" width="2.9" height="2.9" rx="0.7" stroke="#7a7a7a" stroke-width="0.6" fill="#fff"/>
<rect x="482.31" y="63.52" width="2.9" height="2.9" rx="0.7" stroke="#7a7a7a" stroke-width="0.6" fill="#fff"/>
<rect x="484.83" y="63.28" width="2.9" height="2.9" rx="0.7" stroke="#7a7a7a" stroke-width="0.6" fill="#fff"/>
<rect x="487.35" y="62.92" width="2.9" height="2.9" rx="0.7" stroke="#7a7a7a" stroke-width="0.6" fill="#fff"/>
<rect x="489.87" y="62.33" width="2.9" height="2.9" rx="0.7" stroke="#7a7a7a" stroke-width="0.6" fill="#fff"/>
<rect x="492.39" y="62.33" width="2.9" height="2.9" rx="0.7" stroke="#7a7a7a" stroke-width="0.6" fill="#fff"/>
<rect x="494.91" y="62.21" width="2.9" height="2.9" rx="0.7" stroke="#7a7a7a" stroke-width="0.6" fill="#fff"/>
<rect x="497.43" y="62.33" width="2.9" height="2.9" rx="0.7" stroke="#7a7a7a" stroke-width="0.6" fill="#fff"/>
<rect x="499.95" y="62.57" width="2.9" height="2.9" rx="0.7" stroke="#7a7a7a" stroke-width="0.6" fill="#fff"/>
<rect x="502.47" y="63.52" width="2.9" height="2.9" rx="0.7" stroke="#7a7a7a" stroke-width="0.6" fill="#fff"/>
<rect x="504.99" y="65.29" width="2.9" height="2.9" rx="0.7" stroke="#7a7a7a" stroke-width="0.6" fill="#fff"/>
<rect x="507.51" y="66.48" width="2.9" height="2.9" rx="0.7" stroke="#7a7a7a" stroke-width="0.6" fill="#fff"/>
<rect x="510.03" y="67.9" width="2.9" height="2.9" rx="0.7" stroke="#7a7a7a" stroke-width="0.6" fill="#fff"/>
<rect x="512.55" y="69.08" width="2.9" height="2.9" rx="0.7" stroke="#7a7a7a" stroke-width="0.6" fill="#fff"/>
<rect x="515.07" y="70.15" width="2.9" height="2.9" rx="0.7" stroke="#7a7a7a" stroke-width="0.6" fill="#fff"/>
<rect x="517.59" y="71.22" width="2.9" height="2.9" rx="0.7" stroke="#7a7a7a" stroke-width="0.6" fill="#fff"/>
<rect x="520.11" y="72.05" width="2.9" height="2.9" rx="0.7" stroke="#7a7a7a" stroke-width="0.6" fill="#fff"/>
<rect x="522.63" y="72.64" width="2.9" height="2.9" rx="0.7" stroke="#7a7a7a" stroke-width="0.6" fill="#fff"/>
<rect x="525.15" y="73" width="2.9" height="2.9" rx="0.7" stroke="#7a7a7a" stroke-width="0.6" fill="#fff"/>
<rect x="527.67" y="73.59" width="2.9" height="2.9" rx="0.7" stroke="#7a7a7a" stroke-width="0.6" fill="#fff"/>
<rect x="530.19" y="73.82" width="2.9" height="2.9" rx="0.7" stroke="#7a7a7a" stroke-width="0.6" fill="#fff"/>
<rect x="532.71" y="74.18" width="2.9" height="2.9" rx="0.7" stroke="#7a7a7a" stroke-width="0.6" fill="#fff"/>
<rect x="535.23" y="74.65" width="2.9" height="2.9" rx="0.7" stroke="#7a7a7a" stroke-width="0.6" fill="#fff"/>
<rect x="537.75" y="75.01" width="2.9" height="2.9" rx="0.7" stroke="#7a7a7a" stroke-width="0.6" fill="#fff"/>
<rect x="399.5" y="6.6" width="140.8" height="104.7" stroke="#444" stroke-width="0.85" fill="none"/>
<line x1="399.5" y1="78" x2="401.5" y2="78" stroke="#444" stroke-width="0.6" />
<text x="395.1" y="80" style="font-family:'Liberation Serif',serif;font-size:6.0px;font-weight:normal;stroke:#333;stroke-width:0.2px" text-anchor="end" fill="#333" >100</text>
<line x1="399.5" y1="54.3" x2="401.5" y2="54.3" stroke="#444" stroke-width="0.6" />
<text x="395.1" y="56.3" style="font-family:'Liberation Serif',serif;font-size:6.0px;font-weight:normal;stroke:#333;stroke-width:0.2px" text-anchor="end" fill="#333" >120</text>
<line x1="399.5" y1="30.6" x2="401.5" y2="30.6" stroke="#444" stroke-width="0.6" />
<text x="395.1" y="32.6" style="font-family:'Liberation Serif',serif;font-size:6.0px;font-weight:normal;stroke:#333;stroke-width:0.2px" text-anchor="end" fill="#333" >140</text>
<line x1="399.5" y1="6.9" x2="401.5" y2="6.9" stroke="#444" stroke-width="0.6" />
<text x="395.1" y="8.9" style="font-family:'Liberation Serif',serif;font-size:6.0px;font-weight:normal;stroke:#333;stroke-width:0.2px" text-anchor="end" fill="#333" >160</text>
<line x1="399.5" y1="66.15" x2="400.7" y2="66.15" stroke="#444" stroke-width="0.5" />
<line x1="399.5" y1="42.45" x2="400.7" y2="42.45" stroke="#444" stroke-width="0.5" />
<line x1="399.5" y1="18.75" x2="400.7" y2="18.75" stroke="#444" stroke-width="0.5" />
<line x1="399.5" y1="111.3" x2="401.5" y2="111.3" stroke="#444" stroke-width="0.6" />
<text x="395.1" y="113.3" style="font-family:'Liberation Serif',serif;font-size:6.0px;font-weight:normal;stroke:#333;stroke-width:0.2px" text-anchor="end" fill="#333" >0</text>
<line x1="399.5" y1="91.3" x2="401.5" y2="91.3" stroke="#444" stroke-width="0.6" />
<text x="395.1" y="93.3" style="font-family:'Liberation Serif',serif;font-size:6.0px;font-weight:normal;stroke:#333;stroke-width:0.2px" text-anchor="end" fill="#333" >20</text>
<line x1="399.5" y1="101.3" x2="400.7" y2="101.3" stroke="#444" stroke-width="0.5" />
<rect x="398.9" y="84" width="1.2" height="2" fill="#fff"/>
<line x1="397.5" y1="85" x2="401.1" y2="83.2" stroke="#222" stroke-width="0.85" />
<line x1="397.5" y1="87" x2="401.1" y2="85.2" stroke="#222" stroke-width="0.85" />
<rect x="539.7" y="84" width="1.2" height="2" fill="#fff"/>
<line x1="538.3" y1="85" x2="541.9" y2="83.2" stroke="#222" stroke-width="0.85" />
<line x1="538.3" y1="87" x2="541.9" y2="85.2" stroke="#222" stroke-width="0.85" />
<line x1="400.6" y1="111.3" x2="400.6" y2="109.3" stroke="#444" stroke-width="0.6" />
<text x="400.6" y="120.4" style="font-family:'Liberation Serif',serif;font-size:6.0px;font-weight:normal;stroke:#333;stroke-width:0.2px" text-anchor="middle" fill="#333" >0</text>
<line x1="425.8" y1="111.3" x2="425.8" y2="109.3" stroke="#444" stroke-width="0.6" />
<text x="425.8" y="120.4" style="font-family:'Liberation Serif',serif;font-size:6.0px;font-weight:normal;stroke:#333;stroke-width:0.2px" text-anchor="middle" fill="#333" >10</text>
<line x1="451" y1="111.3" x2="451" y2="109.3" stroke="#444" stroke-width="0.6" />
<text x="451" y="120.4" style="font-family:'Liberation Serif',serif;font-size:6.0px;font-weight:normal;stroke:#333;stroke-width:0.2px" text-anchor="middle" fill="#333" >20</text>
<line x1="476.2" y1="111.3" x2="476.2" y2="109.3" stroke="#444" stroke-width="0.6" />
<text x="476.2" y="120.4" style="font-family:'Liberation Serif',serif;font-size:6.0px;font-weight:normal;stroke:#333;stroke-width:0.2px" text-anchor="middle" fill="#333" >30</text>
<line x1="501.4" y1="111.3" x2="501.4" y2="109.3" stroke="#444" stroke-width="0.6" />
<text x="501.4" y="120.4" style="font-family:'Liberation Serif',serif;font-size:6.0px;font-weight:normal;stroke:#333;stroke-width:0.2px" text-anchor="middle" fill="#333" >40</text>
<line x1="526.6" y1="111.3" x2="526.6" y2="109.3" stroke="#444" stroke-width="0.6" />
<text x="526.6" y="120.4" style="font-family:'Liberation Serif',serif;font-size:6.0px;font-weight:normal;stroke:#333;stroke-width:0.2px" text-anchor="middle" fill="#333" >50</text>
<line x1="413.2" y1="111.3" x2="413.2" y2="110.1" stroke="#444" stroke-width="0.5" />
<line x1="438.4" y1="111.3" x2="438.4" y2="110.1" stroke="#444" stroke-width="0.5" />
<line x1="463.6" y1="111.3" x2="463.6" y2="110.1" stroke="#444" stroke-width="0.5" />
<line x1="488.8" y1="111.3" x2="488.8" y2="110.1" stroke="#444" stroke-width="0.5" />
<line x1="514" y1="111.3" x2="514" y2="110.1" stroke="#444" stroke-width="0.5" />
<line x1="539.2" y1="111.3" x2="539.2" y2="110.1" stroke="#444" stroke-width="0.5" />
<text x="470" y="128.7" style="font-family:'Liberation Serif',serif;font-size:7.1px;font-weight:normal;stroke:#222;stroke-width:0.2px" text-anchor="middle" fill="#222" >Cycle Number</text>
<text transform="translate(380.1,59) rotate(-90)" style="font-family:'Liberation Serif',serif;font-size:7.1px;font-weight:normal;stroke:#222;stroke-width:0.2px" text-anchor="middle" fill="#222">Specific capacity / mAh g<tspan dy="-2.2" style="font-size:4.8px">-1</tspan></text>
<rect x="499.9" y="12.9" width="31.9" height="16.4" stroke="#666" stroke-width="0.5" fill="#fff"/>
<rect x="505" y="16.3" width="2.8" height="2.8" stroke="#e07c7c" stroke-width="0.6" fill="#fff"/>
<rect x="505" y="23.9" width="2.8" height="2.8" rx="0.7" stroke="#7a7a7a" stroke-width="0.6" fill="#fff"/>
<text x="513.4" y="20.1" style="font-family:'Liberation Serif',serif;font-size:6.4px;font-weight:normal;stroke:#222;stroke-width:0.25px" text-anchor="start" fill="#222" >TiN-5</text>
<text x="513.4" y="27.5" style="font-family:'Liberation Serif',serif;font-size:6.4px;font-weight:normal;stroke:#222;stroke-width:0.25px" text-anchor="start" fill="#222" >LFP/C</text>
<text x="3.5" y="150.2" style="font-family:'Liberation Serif',serif;font-size:10.8px;font-weight:bold;stroke:#111;stroke-width:0.6px" text-anchor="start" fill="#111" letter-spacing="0.4">(d)</text>
<rect x="36" y="197" width="28" height="9" fill="#fdf0f0"/>
<line x1="52.9" y1="166.1" x2="52.9" y2="240" stroke="#777" stroke-width="0.55" stroke-dasharray="0.8,0.9"/>
<line x1="60.2" y1="168.1" x2="60.2" y2="240" stroke="#777" stroke-width="0.55" stroke-dasharray="0.8,0.9"/>
<line x1="82.1" y1="172.8" x2="82.1" y2="240" stroke="#777" stroke-width="0.55" stroke-dasharray="0.8,0.9"/>
<line x1="90.1" y1="175.8" x2="90.1" y2="240" stroke="#777" stroke-width="0.55" stroke-dasharray="0.8,0.9"/>
<line x1="119.4" y1="184.2" x2="119.4" y2="240" stroke="#777" stroke-width="0.55" stroke-dasharray="0.8,0.9"/>
<line x1="165.2" y1="161" x2="165.2" y2="240" stroke="#777" stroke-width="0.55" stroke-dasharray="0.8,0.9"/>
<polyline points="52.9,166.1 60.2,168.1 82.1,172.8 90.1,175.8 119.4,189.7 165.2,203" stroke="#3a3a3a" stroke-width="0.9" fill="none" stroke-linejoin="round" stroke-linecap="round" />
<polyline points="52.9,201.5 60.2,201.5 82.1,195.1 90.1,200.8 119.4,220.6 165.2,232.2" stroke="#b47c5c" stroke-width="0.95" fill="none" stroke-linejoin="round" stroke-linecap="round" />
<path d="M52.9,217.4 L60.2,217.4 L82.1,194.6 Q88,186 90.1,184.2 L119.4,184.2 L165.2,161" stroke="#6a6ade" stroke-width="1.25" fill="none"/>
<circle cx="52.9" cy="166.1" r="1.2" fill="#222"/>
<circle cx="52.9" cy="201.5" r="1.2" fill="#7a5038"/>
<circle cx="52.9" cy="217.4" r="1.2" fill="#28289a"/>
<circle cx="60.2" cy="168.1" r="1.2" fill="#222"/>
<circle cx="60.2" cy="201.5" r="1.2" fill="#7a5038"/>
<circle cx="60.2" cy="217.4" r="1.2" fill="#28289a"/>
<circle cx="82.1" cy="172.8" r="1.2" fill="#222"/>
<circle cx="82.1" cy="195.1" r="1.2" fill="#7a5038"/>
<circle cx="82.1" cy="194.6" r="1.2" fill="#28289a"/>
<circle cx="90.1" cy="175.8" r="1.2" fill="#222"/>
<circle cx="90.1" cy="200.8" r="1.2" fill="#7a5038"/>
<circle cx="90.1" cy="184.2" r="1.2" fill="#28289a"/>
<circle cx="119.4" cy="189.7" r="1.2" fill="#222"/>
<circle cx="119.4" cy="220.6" r="1.2" fill="#7a5038"/>
<circle cx="119.4" cy="184.2" r="1.2" fill="#28289a"/>
<circle cx="165.2" cy="203" r="1.2" fill="#222"/>
<circle cx="165.2" cy="232.2" r="1.2" fill="#7a5038"/>
<circle cx="165.2" cy="161" r="1.2" fill="#28289a"/>
<rect x="35" y="144.3" width="141" height="112.6" stroke="#555" stroke-width="0.75" fill="none"/>
<line x1="35" y1="256.9" x2="36.8" y2="256.9" stroke="#555" stroke-width="0.5" />
<text x="32.7" y="258.7" style="font-family:'Liberation Serif',serif;font-size:5.2px;font-weight:bold;stroke:#222;stroke-width:0.1px" text-anchor="end" fill="#222" >0</text>
<line x1="35" y1="245.64" x2="36.8" y2="245.64" stroke="#555" stroke-width="0.5" />
<text x="32.7" y="247.44" style="font-family:'Liberation Serif',serif;font-size:5.2px;font-weight:bold;stroke:#222;stroke-width:0.1px" text-anchor="end" fill="#222" >20</text>
<line x1="35" y1="234.38" x2="36.8" y2="234.38" stroke="#555" stroke-width="0.5" />
<text x="32.7" y="236.18" style="font-family:'Liberation Serif',serif;font-size:5.2px;font-weight:bold;stroke:#222;stroke-width:0.1px" text-anchor="end" fill="#222" >40</text>
<line x1="35" y1="223.12" x2="36.8" y2="223.12" stroke="#555" stroke-width="0.5" />
<text x="32.7" y="224.92" style="font-family:'Liberation Serif',serif;font-size:5.2px;font-weight:bold;stroke:#222;stroke-width:0.1px" text-anchor="end" fill="#222" >60</text>
<line x1="35" y1="211.86" x2="36.8" y2="211.86" stroke="#555" stroke-width="0.5" />
<text x="32.7" y="213.66" style="font-family:'Liberation Serif',serif;font-size:5.2px;font-weight:bold;stroke:#222;stroke-width:0.1px" text-anchor="end" fill="#222" >80</text>
<line x1="35" y1="200.6" x2="36.8" y2="200.6" stroke="#555" stroke-width="0.5" />
<text x="32.7" y="202.4" style="font-family:'Liberation Serif',serif;font-size:5.2px;font-weight:bold;stroke:#222;stroke-width:0.1px" text-anchor="end" fill="#222" >100</text>
<line x1="35" y1="189.34" x2="36.8" y2="189.34" stroke="#555" stroke-width="0.5" />
<text x="32.7" y="191.14" style="font-family:'Liberation Serif',serif;font-size:5.2px;font-weight:bold;stroke:#222;stroke-width:0.1px" text-anchor="end" fill="#222" >120</text>
<line x1="35" y1="178.08" x2="36.8" y2="178.08" stroke="#555" stroke-width="0.5" />
<text x="32.7" y="179.88" style="font-family:'Liberation Serif',serif;font-size:5.2px;font-weight:bold;stroke:#222;stroke-width:0.1px" text-anchor="end" fill="#222" >140</text>
<line x1="35" y1="166.82" x2="36.8" y2="166.82" stroke="#555" stroke-width="0.5" />
<text x="32.7" y="168.62" style="font-family:'Liberation Serif',serif;font-size:5.2px;font-weight:bold;stroke:#222;stroke-width:0.1px" text-anchor="end" fill="#222" >160</text>
<line x1="35" y1="155.56" x2="36.8" y2="155.56" stroke="#555" stroke-width="0.5" />
<text x="32.7" y="157.36" style="font-family:'Liberation Serif',serif;font-size:5.2px;font-weight:bold;stroke:#222;stroke-width:0.1px" text-anchor="end" fill="#222" >180</text>
<line x1="35" y1="144.3" x2="36.8" y2="144.3" stroke="#555" stroke-width="0.5" />
<text x="32.7" y="146.1" style="font-family:'Liberation Serif',serif;font-size:5.2px;font-weight:bold;stroke:#222;stroke-width:0.1px" text-anchor="end" fill="#222" >200</text>
<line x1="174.2" y1="150.1" x2="176" y2="150.1" stroke="#555" stroke-width="0.5" />
<text x="178.8" y="151.9" style="font-family:'Liberation Serif',serif;font-size:5.3px;font-weight:bold;stroke:#222;stroke-width:0.3px" text-anchor="start" fill="#222" >10<tspan dy="-1.8" style="font-size:3.4px">-1</tspan></text>
<line x1="174.2" y1="161.25" x2="176" y2="161.25" stroke="#555" stroke-width="0.5" />
<text x="178.8" y="163.05" style="font-family:'Liberation Serif',serif;font-size:5.3px;font-weight:bold;stroke:#222;stroke-width:0.3px" text-anchor="start" fill="#222" >10<tspan dy="-1.8" style="font-size:3.4px">-2</tspan></text>
<line x1="174.2" y1="172.4" x2="176" y2="172.4" stroke="#555" stroke-width="0.5" />
<text x="178.8" y="174.2" style="font-family:'Liberation Serif',serif;font-size:5.3px;font-weight:bold;stroke:#222;stroke-width:0.3px" text-anchor="start" fill="#222" >10<tspan dy="-1.8" style="font-size:3.4px">-3</tspan></text>
<line x1="174.2" y1="183.55" x2="176" y2="183.55" stroke="#555" stroke-width="0.5" />
<text x="178.8" y="185.35" style="font-family:'Liberation Serif',serif;font-size:5.3px;font-weight:bold;stroke:#222;stroke-width:0.3px" text-anchor="start" fill="#222" >10<tspan dy="-1.8" style="font-size:3.4px">-4</tspan></text>
<line x1="174.2" y1="194.7" x2="176" y2="194.7" stroke="#555" stroke-width="0.5" />
<text x="178.8" y="196.5" style="font-family:'Liberation Serif',serif;font-size:5.3px;font-weight:bold;stroke:#222;stroke-width:0.3px" text-anchor="start" fill="#222" >10<tspan dy="-1.8" style="font-size:3.4px">-5</tspan></text>
<line x1="174.2" y1="205.85" x2="176" y2="205.85" stroke="#555" stroke-width="0.5" />
<text x="178.8" y="207.65" style="font-family:'Liberation Serif',serif;font-size:5.3px;font-weight:bold;stroke:#222;stroke-width:0.3px" text-anchor="start" fill="#222" >10<tspan dy="-1.8" style="font-size:3.4px">-6</tspan></text>
<line x1="174.2" y1="217" x2="176" y2="217" stroke="#555" stroke-width="0.5" />
<text x="178.8" y="218.8" style="font-family:'Liberation Serif',serif;font-size:5.3px;font-weight:bold;stroke:#222;stroke-width:0.3px" text-anchor="start" fill="#222" >10<tspan dy="-1.8" style="font-size:3.4px">-7</tspan></text>
<line x1="174.2" y1="228.15" x2="176" y2="228.15" stroke="#555" stroke-width="0.5" />
<text x="178.8" y="229.95" style="font-family:'Liberation Serif',serif;font-size:5.3px;font-weight:bold;stroke:#222;stroke-width:0.3px" text-anchor="start" fill="#222" >10<tspan dy="-1.8" style="font-size:3.4px">-8</tspan></text>
<line x1="174.2" y1="239.3" x2="176" y2="239.3" stroke="#555" stroke-width="0.5" />
<text x="178.8" y="241.1" style="font-family:'Liberation Serif',serif;font-size:5.3px;font-weight:bold;stroke:#222;stroke-width:0.3px" text-anchor="start" fill="#222" >10<tspan dy="-1.8" style="font-size:3.4px">-9</tspan></text>
<line x1="174.2" y1="250.45" x2="176" y2="250.45" stroke="#555" stroke-width="0.5" />
<text x="178.8" y="252.25" style="font-family:'Liberation Serif',serif;font-size:5.3px;font-weight:bold;stroke:#222;stroke-width:0.3px" text-anchor="start" fill="#222" >10<tspan dy="-1.8" style="font-size:3.4px">-10</tspan></text>
<line x1="35" y1="256.9" x2="35" y2="255.1" stroke="#555" stroke-width="0.5" />
<text x="35" y="265" style="font-family:'Liberation Serif',serif;font-size:5.6px;font-weight:bold;stroke:#222;stroke-width:0.1px" text-anchor="middle" fill="#222" >-5</text>
<line x1="52.62" y1="256.9" x2="52.62" y2="255.1" stroke="#555" stroke-width="0.5" />
<text x="52.62" y="265" style="font-family:'Liberation Serif',serif;font-size:5.6px;font-weight:bold;stroke:#222;stroke-width:0.1px" text-anchor="middle" fill="#222" >0</text>
<line x1="70.24" y1="256.9" x2="70.24" y2="255.1" stroke="#555" stroke-width="0.5" />
<text x="70.24" y="265" style="font-family:'Liberation Serif',serif;font-size:5.6px;font-weight:bold;stroke:#222;stroke-width:0.1px" text-anchor="middle" fill="#222" >5</text>
<line x1="87.86" y1="256.9" x2="87.86" y2="255.1" stroke="#555" stroke-width="0.5" />
<text x="87.86" y="265" style="font-family:'Liberation Serif',serif;font-size:5.6px;font-weight:bold;stroke:#222;stroke-width:0.1px" text-anchor="middle" fill="#222" >10</text>
<line x1="105.48" y1="256.9" x2="105.48" y2="255.1" stroke="#555" stroke-width="0.5" />
<text x="105.48" y="265" style="font-family:'Liberation Serif',serif;font-size:5.6px;font-weight:bold;stroke:#222;stroke-width:0.1px" text-anchor="middle" fill="#222" >15</text>
<line x1="123.1" y1="256.9" x2="123.1" y2="255.1" stroke="#555" stroke-width="0.5" />
<text x="123.1" y="265" style="font-family:'Liberation Serif',serif;font-size:5.6px;font-weight:bold;stroke:#222;stroke-width:0.1px" text-anchor="middle" fill="#222" >20</text>
<line x1="140.72" y1="256.9" x2="140.72" y2="255.1" stroke="#555" stroke-width="0.5" />
<text x="140.72" y="265" style="font-family:'Liberation Serif',serif;font-size:5.6px;font-weight:bold;stroke:#222;stroke-width:0.1px" text-anchor="middle" fill="#222" >25</text>
<line x1="158.34" y1="256.9" x2="158.34" y2="255.1" stroke="#555" stroke-width="0.5" />
<text x="158.34" y="265" style="font-family:'Liberation Serif',serif;font-size:5.6px;font-weight:bold;stroke:#222;stroke-width:0.1px" text-anchor="middle" fill="#222" >30</text>
<line x1="175.96" y1="256.9" x2="175.96" y2="255.1" stroke="#555" stroke-width="0.5" />
<text x="175.96" y="265" style="font-family:'Liberation Serif',serif;font-size:5.6px;font-weight:bold;stroke:#222;stroke-width:0.1px" text-anchor="middle" fill="#222" >35</text>
<text x="105.2" y="277.4" style="font-family:'Liberation Serif',serif;font-size:6.0px;font-weight:bold;stroke:#1a1a1a;stroke-width:0.3px" text-anchor="middle" fill="#1a1a1a" >Amount of Fe<tspan dy="1.4" style="font-size:4px">2</tspan><tspan dy="-1.4">P (%)</tspan></text>
<text transform="translate(23.5,199.5) rotate(-90)" style="font-family:'Liberation Serif',serif;font-size:6.95px;font-weight:bold;stroke:#1a1a1a;stroke-width:0.3px" text-anchor="middle" fill="#1a1a1a">Discharge capacity (mAh/g)</text>
<text transform="translate(193,188.6) rotate(-90)" style="font-family:'Liberation Serif',serif;font-size:5.85px;font-weight:bold;stroke:#1a1a1a;stroke-width:0.3px" text-anchor="middle" fill="#1a1a1a">Electronic Conductivity (S/cm)</text>
<text x="37.4" y="161.3" style="font-family:'Liberation Serif',serif;font-size:3.7px;font-weight:bold;stroke:#222;stroke-width:0.1px" text-anchor="start" fill="#222" >C/20 rate</text>
<text x="36.7" y="199.2" style="font-family:'Liberation Serif',serif;font-size:3.7px;font-weight:bold;stroke:#222;stroke-width:0.1px" text-anchor="start" fill="#222" >1C rate</text>
<text x="41" y="234.3" style="font-family:'Liberation Serif',serif;font-size:3.7px;font-weight:bold;stroke:#222;stroke-width:0.1px" text-anchor="start" fill="#222" >Pure</text>
<text x="148.9" y="157.2" style="font-family:'Liberation Serif',serif;font-size:3.5px;font-weight:bold;stroke:#222;stroke-width:0.1px" text-anchor="start" fill="#222" >Conductivity</text>
<text x="43" y="243.6" style="font-family:'Liberation Serif',serif;font-size:3.9px;font-weight:bold;stroke:#222;stroke-width:0.1px" text-anchor="start" fill="#222" >LiFePO<tspan style="font-size:2.8px" dy="0.8">4</tspan></text>
<text x="59.8" y="243.6" style="font-family:'Liberation Serif',serif;font-size:3.9px;font-weight:bold;stroke:#222;stroke-width:0.1px" text-anchor="start" fill="#222" ><tspan font-style="italic">Fe<tspan style="font-size:2.8px" dy="0.8">2</tspan><tspan dy="-0.8">P-2</tspan></tspan></text>
<text x="75.8" y="243.6" style="font-family:'Liberation Serif',serif;font-size:3.9px;font-weight:bold;stroke:#222;stroke-width:0.1px" text-anchor="start" fill="#222" ><tspan font-style="italic">Fe<tspan style="font-size:2.8px" dy="0.8">2</tspan><tspan dy="-0.8">P-8Fe</tspan><tspan style="font-size:2.8px" dy="0.8">2</tspan><tspan dy="-0.8">P-5</tspan></tspan></text>
<text x="116.2" y="243.6" style="font-family:'Liberation Serif',serif;font-size:3.9px;font-weight:bold;stroke:#222;stroke-width:0.1px" text-anchor="start" fill="#222" ><tspan font-style="italic">Fe<tspan style="font-size:2.8px" dy="0.8">2</tspan><tspan dy="-0.8">P-7</tspan></tspan></text>
<text x="160.6" y="243.6" style="font-family:'Liberation Serif',serif;font-size:3.9px;font-weight:bold;stroke:#222;stroke-width:0.1px" text-anchor="start" fill="#222" ><tspan font-style="italic">Fe<tspan style="font-size:2.8px" dy="0.8">2</tspan><tspan dy="-0.8">P-10</tspan></tspan></text>
<text x="193" y="150" style="font-family:'Liberation Serif',serif;font-size:10.8px;font-weight:bold;stroke:#111;stroke-width:0.6px" text-anchor="start" fill="#111" letter-spacing="0.3">(e)</text>
<path d="M225.64,148.98 L234.38,148.85 L243.12,148.46 L251.86,147.94 L260.6,146.38 L269.34,179.66 L278.08,180.83 L286.82,181.61 L295.56,181.09 L304.3,181.09 L313.04,211.9 L321.78,213.2 L330.52,215.02 L339.26,215.02 L348,213.85 L348,224.85 L339.26,226.02 L330.52,226.02 L321.78,224.2 L313.04,222.9 L304.3,192.09 L295.56,192.09 L286.82,192.61 L278.08,191.83 L269.34,190.66 L260.6,157.38 L251.86,158.94 L243.12,159.46 L234.38,159.85 L225.64,159.98Z" fill="#ecf9f0"/>
<path d="M225.64,185.06 L234.38,185.06 L243.12,184.8 L251.86,182.33 L260.6,186.1 L269.34,213.79 L278.08,213.79 L286.82,210.93 L295.56,210.41 L304.3,210.41 L313.04,241.09 L321.78,241.87 L330.52,238.88 L339.26,241.87 L348,243.95 L348,251.95 L339.26,249.87 L330.52,246.88 L321.78,249.87 L313.04,249.09 L304.3,218.41 L295.56,218.41 L286.82,218.93 L278.08,221.79 L269.34,221.79 L260.6,194.1 L251.86,190.33 L243.12,192.8 L234.38,193.06 L225.64,193.06Z" fill="#fcf0f2"/>
<path d="M225.64,161.51 L234.38,160.73 L243.12,165.8 L251.86,169.57 L260.6,165.54 L269.34,196.22 L278.08,204.8 L286.82,204.15 L295.56,203.5 L304.3,202.72 L313.04,231.97 L321.78,231.97 L330.52,233.14 L339.26,230.02 L348,230.02 L348,237.02 L339.26,237.02 L330.52,240.14 L321.78,238.97 L313.04,238.97 L304.3,209.72 L295.56,210.5 L286.82,211.15 L278.08,211.8 L269.34,203.22 L260.6,172.54 L251.86,176.57 L243.12,172.8 L234.38,167.73 L225.64,168.51Z" fill="#f3f4fc"/>
<polyline points="225.64,193.61 234.38,193.61 243.12,193.61 251.86,190.1 260.6,193.09 269.34,227.28 278.08,235.21 286.82,229.1 295.56,228.71 304.3,227.28 313.04,249.64 321.78,251.59 330.52,253.8 339.26,253.8 348,252.76" stroke="#222" stroke-width="0.75" fill="none" stroke-linejoin="round" stroke-linecap="round" />
<circle cx="225.64" cy="193.61" r="1.2" fill="#111"/>
<circle cx="234.38" cy="193.61" r="1.2" fill="#111"/>
<circle cx="243.12" cy="193.61" r="1.2" fill="#111"/>
<circle cx="251.86" cy="190.1" r="1.2" fill="#111"/>
<circle cx="260.6" cy="193.09" r="1.2" fill="#111"/>
<circle cx="269.34" cy="227.28" r="1.2" fill="#111"/>
<circle cx="278.08" cy="235.21" r="1.2" fill="#111"/>
<circle cx="286.82" cy="229.1" r="1.2" fill="#111"/>
<circle cx="295.56" cy="228.71" r="1.2" fill="#111"/>
<circle cx="304.3" cy="227.28" r="1.2" fill="#111"/>
<circle cx="313.04" cy="249.64" r="1.2" fill="#111"/>
<circle cx="321.78" cy="251.59" r="1.2" fill="#111"/>
<circle cx="330.52" cy="253.8" r="1.2" fill="#111"/>
<circle cx="339.26" cy="253.8" r="1.2" fill="#111"/>
<circle cx="348" cy="252.76" r="1.2" fill="#111"/>
<polyline points="225.64,189.06 234.38,189.06 243.12,188.8 251.86,186.33 260.6,190.1 269.34,217.79 278.08,217.79 286.82,214.93 295.56,214.41 304.3,214.41 313.04,245.09 321.78,245.87 330.52,242.88 339.26,245.87 348,247.95" stroke="#a06a40" stroke-width="0.75" fill="none" stroke-linejoin="round" stroke-linecap="round" />
<circle cx="225.64" cy="189.06" r="1.2" fill="#5a3a20"/>
<circle cx="234.38" cy="189.06" r="1.2" fill="#5a3a20"/>
<circle cx="243.12" cy="188.8" r="1.2" fill="#5a3a20"/>
<circle cx="251.86" cy="186.33" r="1.2" fill="#5a3a20"/>
<circle cx="260.6" cy="190.1" r="1.2" fill="#5a3a20"/>
<circle cx="269.34" cy="217.79" r="1.2" fill="#5a3a20"/>
<circle cx="278.08" cy="217.79" r="1.2" fill="#5a3a20"/>
<circle cx="286.82" cy="214.93" r="1.2" fill="#5a3a20"/>
<circle cx="295.56" cy="214.41" r="1.2" fill="#5a3a20"/>
<circle cx="304.3" cy="214.41" r="1.2" fill="#5a3a20"/>
<circle cx="313.04" cy="245.09" r="1.2" fill="#5a3a20"/>
<circle cx="321.78" cy="245.87" r="1.2" fill="#5a3a20"/>
<circle cx="330.52" cy="242.88" r="1.2" fill="#5a3a20"/>
<circle cx="339.26" cy="245.87" r="1.2" fill="#5a3a20"/>
<circle cx="348" cy="247.95" r="1.2" fill="#5a3a20"/>
<polyline points="225.64,154.48 234.38,154.35 243.12,153.96 251.86,153.44 260.6,151.88 269.34,185.16 278.08,186.33 286.82,187.11 295.56,186.59 304.3,186.59 313.04,217.4 321.78,218.7 330.52,220.52 339.26,220.52 348,219.35" stroke="#94cc5c" stroke-width="0.75" fill="none" stroke-linejoin="round" stroke-linecap="round" />
<path d="M225.64,153.08 L226.94,155.38 L224.34,155.38Z" fill="#60ac30"/>
<path d="M234.38,152.95 L235.68,155.25 L233.08,155.25Z" fill="#60ac30"/>
<path d="M243.12,152.56 L244.42,154.86 L241.82,154.86Z" fill="#60ac30"/>
<path d="M251.86,152.04 L253.16,154.34 L250.56,154.34Z" fill="#60ac30"/>
<path d="M260.6,150.48 L261.9,152.78 L259.3,152.78Z" fill="#60ac30"/>
<path d="M269.34,183.76 L270.64,186.06 L268.04,186.06Z" fill="#60ac30"/>
<path d="M278.08,184.93 L279.38,187.23 L276.78,187.23Z" fill="#60ac30"/>
<path d="M286.82,185.71 L288.12,188.01 L285.52,188.01Z" fill="#60ac30"/>
<path d="M295.56,185.19 L296.86,187.49 L294.26,187.49Z" fill="#60ac30"/>
<path d="M304.3,185.19 L305.6,187.49 L303,187.49Z" fill="#60ac30"/>
<path d="M313.04,216 L314.34,218.3 L311.74,218.3Z" fill="#60ac30"/>
<path d="M321.78,217.3 L323.08,219.6 L320.48,219.6Z" fill="#60ac30"/>
<path d="M330.52,219.12 L331.82,221.42 L329.22,221.42Z" fill="#60ac30"/>
<path d="M339.26,219.12 L340.56,221.42 L337.96,221.42Z" fill="#60ac30"/>
<path d="M348,217.95 L349.3,220.25 L346.7,220.25Z" fill="#60ac30"/>
<polyline points="225.64,165.01 234.38,164.23 243.12,169.3 251.86,173.07 260.6,169.04 269.34,199.72 278.08,208.3 286.82,207.65 295.56,207 304.3,206.22 313.04,235.47 321.78,235.47 330.52,236.64 339.26,233.52 348,233.52" stroke="#3030c8" stroke-width="0.75" fill="none" stroke-linejoin="round" stroke-linecap="round" />
<path d="M225.64,166.41 L226.94,164.11 L224.34,164.11Z" fill="#1c1ca8"/>
<path d="M234.38,165.63 L235.68,163.33 L233.08,163.33Z" fill="#1c1ca8"/>
<path d="M243.12,170.7 L244.42,168.4 L241.82,168.4Z" fill="#1c1ca8"/>
<path d="M251.86,174.47 L253.16,172.17 L250.56,172.17Z" fill="#1c1ca8"/>
<path d="M260.6,170.44 L261.9,168.14 L259.3,168.14Z" fill="#1c1ca8"/>
<path d="M269.34,201.12 L270.64,198.82 L268.04,198.82Z" fill="#1c1ca8"/>
<path d="M278.08,209.7 L279.38,207.4 L276.78,207.4Z" fill="#1c1ca8"/>
<path d="M286.82,209.05 L288.12,206.75 L285.52,206.75Z" fill="#1c1ca8"/>
<path d="M295.56,208.4 L296.86,206.1 L294.26,206.1Z" fill="#1c1ca8"/>
<path d="M304.3,207.62 L305.6,205.32 L303,205.32Z" fill="#1c1ca8"/>
<path d="M313.04,236.87 L314.34,234.57 L311.74,234.57Z" fill="#1c1ca8"/>
<path d="M321.78,236.87 L323.08,234.57 L320.48,234.57Z" fill="#1c1ca8"/>
<path d="M330.52,238.04 L331.82,235.74 L329.22,235.74Z" fill="#1c1ca8"/>
<path d="M339.26,234.92 L340.56,232.62 L337.96,232.62Z" fill="#1c1ca8"/>
<path d="M348,234.92 L349.3,232.62 L346.7,232.62Z" fill="#1c1ca8"/>
<rect x="216.9" y="144.4" width="139.9" height="116.8" stroke="#555" stroke-width="0.75" fill="none"/>
<line x1="216.9" y1="255.1" x2="218.7" y2="255.1" stroke="#555" stroke-width="0.5" />
<text x="215.1" y="256.7" style="font-family:'Liberation Sans',sans-serif;font-size:4.7px;font-weight:normal;stroke:#333;stroke-width:0.1px" text-anchor="end" fill="#333" >80</text>
<line x1="216.9" y1="242.1" x2="218.7" y2="242.1" stroke="#555" stroke-width="0.5" />
<text x="215.1" y="243.7" style="font-family:'Liberation Sans',sans-serif;font-size:4.7px;font-weight:normal;stroke:#333;stroke-width:0.1px" text-anchor="end" fill="#333" >90</text>
<line x1="216.9" y1="229.1" x2="218.7" y2="229.1" stroke="#555" stroke-width="0.5" />
<text x="215.1" y="230.7" style="font-family:'Liberation Sans',sans-serif;font-size:4.7px;font-weight:normal;stroke:#333;stroke-width:0.1px" text-anchor="end" fill="#333" >100</text>
<line x1="216.9" y1="216.1" x2="218.7" y2="216.1" stroke="#555" stroke-width="0.5" />
<text x="215.1" y="217.7" style="font-family:'Liberation Sans',sans-serif;font-size:4.7px;font-weight:normal;stroke:#333;stroke-width:0.1px" text-anchor="end" fill="#333" >110</text>
<line x1="216.9" y1="203.1" x2="218.7" y2="203.1" stroke="#555" stroke-width="0.5" />
<text x="215.1" y="204.7" style="font-family:'Liberation Sans',sans-serif;font-size:4.7px;font-weight:normal;stroke:#333;stroke-width:0.1px" text-anchor="end" fill="#333" >120</text>
<line x1="216.9" y1="190.1" x2="218.7" y2="190.1" stroke="#555" stroke-width="0.5" />
<text x="215.1" y="191.7" style="font-family:'Liberation Sans',sans-serif;font-size:4.7px;font-weight:normal;stroke:#333;stroke-width:0.1px" text-anchor="end" fill="#333" >130</text>
<line x1="216.9" y1="177.1" x2="218.7" y2="177.1" stroke="#555" stroke-width="0.5" />
<text x="215.1" y="178.7" style="font-family:'Liberation Sans',sans-serif;font-size:4.7px;font-weight:normal;stroke:#333;stroke-width:0.1px" text-anchor="end" fill="#333" >140</text>
<line x1="216.9" y1="164.1" x2="218.7" y2="164.1" stroke="#555" stroke-width="0.5" />
<text x="215.1" y="165.7" style="font-family:'Liberation Sans',sans-serif;font-size:4.7px;font-weight:normal;stroke:#333;stroke-width:0.1px" text-anchor="end" fill="#333" >150</text>
<line x1="216.9" y1="151.1" x2="218.7" y2="151.1" stroke="#555" stroke-width="0.5" />
<text x="215.1" y="152.7" style="font-family:'Liberation Sans',sans-serif;font-size:4.7px;font-weight:normal;stroke:#333;stroke-width:0.1px" text-anchor="end" fill="#333" >160</text>
<line x1="216.9" y1="248.6" x2="217.9" y2="248.6" stroke="#555" stroke-width="0.4" />
<line x1="216.9" y1="235.6" x2="217.9" y2="235.6" stroke="#555" stroke-width="0.4" />
<line x1="216.9" y1="222.6" x2="217.9" y2="222.6" stroke="#555" stroke-width="0.4" />
<line x1="216.9" y1="209.6" x2="217.9" y2="209.6" stroke="#555" stroke-width="0.4" />
<line x1="216.9" y1="196.6" x2="217.9" y2="196.6" stroke="#555" stroke-width="0.4" />
<line x1="216.9" y1="183.6" x2="217.9" y2="183.6" stroke="#555" stroke-width="0.4" />
<line x1="216.9" y1="170.6" x2="217.9" y2="170.6" stroke="#555" stroke-width="0.4" />
<line x1="216.9" y1="157.6" x2="217.9" y2="157.6" stroke="#555" stroke-width="0.4" />
<line x1="216.9" y1="261.2" x2="216.9" y2="259.4" stroke="#555" stroke-width="0.5" />
<text x="216.9" y="268.2" style="font-family:'Liberation Sans',sans-serif;font-size:4.7px;font-weight:normal;stroke:#333;stroke-width:0.1px" text-anchor="middle" fill="#333" >0</text>
<line x1="234.38" y1="261.2" x2="234.38" y2="259.4" stroke="#555" stroke-width="0.5" />
<text x="234.38" y="268.2" style="font-family:'Liberation Sans',sans-serif;font-size:4.7px;font-weight:normal;stroke:#333;stroke-width:0.1px" text-anchor="middle" fill="#333" >2</text>
<line x1="251.86" y1="261.2" x2="251.86" y2="259.4" stroke="#555" stroke-width="0.5" />
<text x="251.86" y="268.2" style="font-family:'Liberation Sans',sans-serif;font-size:4.7px;font-weight:normal;stroke:#333;stroke-width:0.1px" text-anchor="middle" fill="#333" >4</text>
<line x1="269.34" y1="261.2" x2="269.34" y2="259.4" stroke="#555" stroke-width="0.5" />
<text x="269.34" y="268.2" style="font-family:'Liberation Sans',sans-serif;font-size:4.7px;font-weight:normal;stroke:#333;stroke-width:0.1px" text-anchor="middle" fill="#333" >6</text>
<line x1="286.82" y1="261.2" x2="286.82" y2="259.4" stroke="#555" stroke-width="0.5" />
<text x="286.82" y="268.2" style="font-family:'Liberation Sans',sans-serif;font-size:4.7px;font-weight:normal;stroke:#333;stroke-width:0.1px" text-anchor="middle" fill="#333" >8</text>
<line x1="304.3" y1="261.2" x2="304.3" y2="259.4" stroke="#555" stroke-width="0.5" />
<text x="304.3" y="268.2" style="font-family:'Liberation Sans',sans-serif;font-size:4.7px;font-weight:normal;stroke:#333;stroke-width:0.1px" text-anchor="middle" fill="#333" >10</text>
<line x1="321.78" y1="261.2" x2="321.78" y2="259.4" stroke="#555" stroke-width="0.5" />
<text x="321.78" y="268.2" style="font-family:'Liberation Sans',sans-serif;font-size:4.7px;font-weight:normal;stroke:#333;stroke-width:0.1px" text-anchor="middle" fill="#333" >12</text>
<line x1="339.26" y1="261.2" x2="339.26" y2="259.4" stroke="#555" stroke-width="0.5" />
<text x="339.26" y="268.2" style="font-family:'Liberation Sans',sans-serif;font-size:4.7px;font-weight:normal;stroke:#333;stroke-width:0.1px" text-anchor="middle" fill="#333" >14</text>
<line x1="356.74" y1="261.2" x2="356.74" y2="259.4" stroke="#555" stroke-width="0.5" />
<text x="356.74" y="268.2" style="font-family:'Liberation Sans',sans-serif;font-size:4.7px;font-weight:normal;stroke:#333;stroke-width:0.1px" text-anchor="middle" fill="#333" >16</text>
<line x1="225.64" y1="261.2" x2="225.64" y2="260.2" stroke="#555" stroke-width="0.4" />
<line x1="243.12" y1="261.2" x2="243.12" y2="260.2" stroke="#555" stroke-width="0.4" />
<line x1="260.6" y1="261.2" x2="260.6" y2="260.2" stroke="#555" stroke-width="0.4" />
<line x1="278.08" y1="261.2" x2="278.08" y2="260.2" stroke="#555" stroke-width="0.4" />
<line x1="295.56" y1="261.2" x2="295.56" y2="260.2" stroke="#555" stroke-width="0.4" />
<line x1="313.04" y1="261.2" x2="313.04" y2="260.2" stroke="#555" stroke-width="0.4" />
<line x1="330.52" y1="261.2" x2="330.52" y2="260.2" stroke="#555" stroke-width="0.4" />
<line x1="348" y1="261.2" x2="348" y2="260.2" stroke="#555" stroke-width="0.4" />
<text x="287" y="275.6" style="font-family:'Liberation Sans',sans-serif;font-size:5.3px;font-weight:normal;stroke:#222;stroke-width:0.1px" text-anchor="middle" fill="#222" >Cycle number</text>
<text transform="translate(204.6,198.5) rotate(-90)" style="font-family:'Liberation Sans',sans-serif;font-size:5.2px;font-weight:normal;stroke:#222;stroke-width:0.1px" text-anchor="middle" fill="#222">Discharge capacity (mAh/g)</text>
<text x="241.4" y="162.3" style="font-family:'Liberation Sans',sans-serif;font-size:5.2px;font-weight:normal;stroke:#444;stroke-width:0.05px" text-anchor="start" fill="#444" >C/12</text>
<text x="284.8" y="199.3" style="font-family:'Liberation Sans',sans-serif;font-size:5.2px;font-weight:normal;stroke:#444;stroke-width:0.05px" text-anchor="start" fill="#444" >C/2</text>
<text x="328.3" y="229.8" style="font-family:'Liberation Sans',sans-serif;font-size:5.2px;font-weight:normal;stroke:#444;stroke-width:0.05px" text-anchor="start" fill="#444" >1C</text>
<line x1="297.4" y1="155.2" x2="307.3" y2="155.2" stroke="#222" stroke-width="0.65" stroke-dasharray="2.6,1.2"/>
<circle cx="302.3" cy="155.2" r="1.1" fill="#111"/>
<text x="308.6" y="156.9" style="font-family:'Liberation Sans',sans-serif;font-size:4.6px;font-weight:normal;stroke:#222;stroke-width:0.12px" text-anchor="start" fill="#222" >bare LiFePO<tspan dy="0.8" style="font-size:3px">4</tspan></text>
<line x1="297.4" y1="161.85" x2="307.3" y2="161.85" stroke="#a06a40" stroke-width="0.65" stroke-dasharray="2.6,1.2"/>
<circle cx="302.3" cy="161.85" r="1.1" fill="#5a3a20"/>
<text x="308.6" y="163.55" style="font-family:'Liberation Sans',sans-serif;font-size:4.6px;font-weight:normal;stroke:#222;stroke-width:0.12px" text-anchor="start" fill="#222" >5.86wt%FePO<tspan dy="0.8" style="font-size:3px">4</tspan><tspan dy="-0.8">/PTh</tspan></text>
<line x1="297.4" y1="168.5" x2="307.3" y2="168.5" stroke="#88c850" stroke-width="0.65" stroke-dasharray="2.6,1.2"/>
<path d="M302.3,167.3 L303.40000000000003,169.3 L301.2,169.3Z" fill="#58a828"/>
<text x="308.6" y="170.2" style="font-family:'Liberation Sans',sans-serif;font-size:4.6px;font-weight:normal;stroke:#222;stroke-width:0.12px" text-anchor="start" fill="#222" >10.56wt%FePO<tspan dy="0.8" style="font-size:3px">4</tspan><tspan dy="-0.8">/PTh</tspan></text>
<line x1="297.4" y1="175.15" x2="307.3" y2="175.15" stroke="#3030c8" stroke-width="0.65" stroke-dasharray="2.6,1.2"/>
<path d="M302.3,176.35 L303.40000000000003,174.35 L301.2,174.35Z" fill="#1c1ca8"/>
<text x="308.6" y="176.85" style="font-family:'Liberation Sans',sans-serif;font-size:4.6px;font-weight:normal;stroke:#222;stroke-width:0.12px" text-anchor="start" fill="#222" >12.85wt%FePO<tspan dy="0.8" style="font-size:3px">4</tspan><tspan dy="-0.8">/PTh</tspan></text>
<text x="365.2" y="149.4" style="font-family:'Liberation Serif',serif;font-size:10.0px;font-weight:bold;stroke:#111;stroke-width:0.45px" text-anchor="start" fill="#111" >(f)</text>
<circle cx="384.6" cy="145.2" r="0.9" fill="#303080"/>
<circle cx="384.6" cy="151.4" r="0.7" fill="#9090c0"/>
<line x1="374.3" y1="157.8" x2="385.3" y2="157.8" stroke="#9a70d0" stroke-width="1.0" />
<text x="388.6" y="146.8" style="font-family:'Liberation Serif',serif;font-size:4.6px;font-weight:normal;stroke:#222;stroke-width:0.18px" text-anchor="start" fill="#222" >Fe<tspan dy="-1.6" style="font-size:3px">3+</tspan></text>
<text x="388.6" y="153" style="font-family:'Liberation Serif',serif;font-size:4.6px;font-weight:normal;stroke:#222;stroke-width:0.18px" text-anchor="start" fill="#222" >Li<tspan dy="0.8" style="font-size:3px">3</tspan><tspan dy="-0.8">PO</tspan><tspan dy="0.8" style="font-size:3px">4</tspan></text>
<text x="388.6" y="159.4" style="font-family:'Liberation Serif',serif;font-size:4.6px;font-weight:normal;stroke:#222;stroke-width:0.18px" text-anchor="start" fill="#222" >Starch</text>
<circle cx="450.6" cy="145.4" r="3.3" fill="#1414f0"/>
<text x="457.4" y="147.7" style="font-family:'Liberation Serif',serif;font-size:5.3px;font-weight:normal;stroke:#3a3a3a;stroke-width:0.12px" text-anchor="start" fill="#3a3a3a" >LiFePO<tspan dy="0.8" style="font-size:3.4px">4</tspan></text>
<path d="M440,158.8 q3,-0.9 6,-0.5 t7.5,-0.5" stroke="#c4c4a8" stroke-width="1.7" fill="none" stroke-linecap="round"/>
<path d="M441,158.6 q3,-0.9 6,-0.4 t6,-0.6" stroke="#8a8a70" stroke-width="0.4" fill="none"/>
<text x="457.5" y="159.6" style="font-family:'Liberation Serif',serif;font-size:4.9px;font-weight:bold;stroke:#222;stroke-width:0.2px" text-anchor="start" fill="#222" >Phenolic Resin</text>
<circle cx="400.48" cy="184.11" r="0.55" fill="#2a3a80"/>
<circle cx="413.77" cy="183.51" r="0.55" fill="#3040b0"/>
<circle cx="400.65" cy="182.8" r="0.55" fill="#c0c8d8"/>
<circle cx="403.53" cy="183.63" r="0.55" fill="#506090"/>
<circle cx="406.19" cy="182.4" r="0.55" fill="#506090"/>
<circle cx="411.67" cy="183.53" r="0.55" fill="#7090c0"/>
<circle cx="396.04" cy="177.04" r="0.55" fill="#3040b0"/>
<circle cx="395.57" cy="179.11" r="0.55" fill="#7090c0"/>
<circle cx="414.06" cy="183.49" r="0.55" fill="#a0a8c8"/>
<circle cx="394.48" cy="184.19" r="0.55" fill="#c0c8d8"/>
<circle cx="398.55" cy="187.98" r="0.55" fill="#7090c0"/>
<circle cx="410.42" cy="184.96" r="0.55" fill="#7090c0"/>
<circle cx="396.11" cy="185.55" r="0.55" fill="#3040b0"/>
<circle cx="393.44" cy="178.99" r="0.55" fill="#506090"/>
<circle cx="399.16" cy="176.78" r="0.55" fill="#a0a8c8"/>
<circle cx="390.69" cy="183.01" r="0.55" fill="#a0a8c8"/>
<circle cx="399.19" cy="188.01" r="0.55" fill="#2a3a80"/>
<circle cx="403.38" cy="179.21" r="0.55" fill="#a0a8c8"/>
<circle cx="390.88" cy="180.25" r="0.55" fill="#2a3a80"/>
<circle cx="393.22" cy="183.32" r="0.55" fill="#3040b0"/>
<circle cx="408.8" cy="184.81" r="0.55" fill="#a0a8c8"/>
<circle cx="407.87" cy="185.85" r="0.55" fill="#3040b0"/>
<circle cx="406.17" cy="180.89" r="0.55" fill="#c0c8d8"/>
<circle cx="391.96" cy="178.17" r="0.55" fill="#a0a8c8"/>
<circle cx="398.64" cy="185.3" r="0.55" fill="#506090"/>
<circle cx="395.12" cy="178.86" r="0.55" fill="#3040b0"/>
<circle cx="410.99" cy="179.57" r="0.55" fill="#2a3a80"/>
<circle cx="412.74" cy="184.05" r="0.55" fill="#a0a8c8"/>
<circle cx="395.02" cy="175.19" r="0.55" fill="#506090"/>
<circle cx="400.99" cy="186.13" r="0.55" fill="#2a3a80"/>
<circle cx="395.59" cy="187.6" r="0.55" fill="#a0a8c8"/>
<circle cx="404.86" cy="183.72" r="0.55" fill="#3040b0"/>
<circle cx="404.06" cy="185.5" r="0.55" fill="#2a3a80"/>
<circle cx="402.82" cy="186.28" r="0.55" fill="#506090"/>
<circle cx="410.2" cy="183.94" r="0.55" fill="#c0c8d8"/>
<circle cx="401.88" cy="184.24" r="0.55" fill="#506090"/>
<circle cx="407.13" cy="178.3" r="0.55" fill="#506090"/>
<circle cx="413.24" cy="180.85" r="0.55" fill="#506090"/>
<circle cx="407.5" cy="180.6" r="0.55" fill="#7090c0"/>
<circle cx="408.74" cy="186.55" r="0.55" fill="#3040b0"/>
<circle cx="392.92" cy="181.96" r="0.55" fill="#a0a8c8"/>
<circle cx="401.73" cy="184.32" r="0.55" fill="#c0c8d8"/>
<circle cx="396.14" cy="185.7" r="0.55" fill="#7090c0"/>
<circle cx="399.34" cy="176.19" r="0.55" fill="#c0c8d8"/>
<circle cx="396.51" cy="175.85" r="0.55" fill="#506090"/>
<circle cx="411.83" cy="177.33" r="0.55" fill="#2a3a80"/>
<circle cx="405.08" cy="176.73" r="0.55" fill="#506090"/>
<circle cx="395.71" cy="184.74" r="0.55" fill="#506090"/>
<circle cx="405.77" cy="182.17" r="0.55" fill="#7090c0"/>
<circle cx="398.75" cy="182.34" r="0.55" fill="#c0c8d8"/>
<circle cx="402.88" cy="181.44" r="0.55" fill="#7090c0"/>
<circle cx="390.56" cy="179.67" r="0.55" fill="#c0c8d8"/>
<circle cx="414.52" cy="182.56" r="0.55" fill="#c0c8d8"/>
<circle cx="395.44" cy="185.76" r="0.55" fill="#a0a8c8"/>
<circle cx="395.64" cy="178.18" r="0.55" fill="#3040b0"/>
<circle cx="410.13" cy="175.08" r="0.55" fill="#506090"/>
<circle cx="395.61" cy="181.94" r="0.55" fill="#7090c0"/>
<circle cx="408.7" cy="184.13" r="0.55" fill="#a0a8c8"/>
<circle cx="392.15" cy="182.27" r="0.55" fill="#c0c8d8"/>
<circle cx="415.05" cy="182.5" r="0.55" fill="#c0c8d8"/>
<circle cx="395.83" cy="186.35" r="0.55" fill="#3040b0"/>
<circle cx="403.06" cy="177.15" r="0.55" fill="#2a3a80"/>
<circle cx="409.68" cy="176.47" r="0.55" fill="#a0a8c8"/>
<circle cx="390.58" cy="180.54" r="0.55" fill="#a0a8c8"/>
<circle cx="403.98" cy="175.76" r="0.55" fill="#c0c8d8"/>
<circle cx="399.8" cy="184.63" r="0.55" fill="#7090c0"/>
<circle cx="406.7" cy="174.78" r="0.55" fill="#2a3a80"/>
<circle cx="404.58" cy="178.11" r="0.55" fill="#506090"/>
<circle cx="401.36" cy="182.45" r="0.55" fill="#3040b0"/>
<circle cx="404.89" cy="176.21" r="0.55" fill="#7090c0"/>
<circle cx="398.28" cy="174.26" r="0.55" fill="#506090"/>
<circle cx="406.62" cy="175.21" r="0.55" fill="#a0a8c8"/>
<circle cx="410.12" cy="180.09" r="0.55" fill="#7090c0"/>
<circle cx="409.73" cy="184.6" r="0.55" fill="#a0a8c8"/>
<circle cx="405.56" cy="187.31" r="0.55" fill="#c0c8d8"/>
<circle cx="407.47" cy="176.85" r="0.55" fill="#2a3a80"/>
<circle cx="396.98" cy="186.6" r="0.55" fill="#2a3a80"/>
<circle cx="408.52" cy="184.73" r="0.55" fill="#2a3a80"/>
<circle cx="402.71" cy="176.01" r="0.55" fill="#7090c0"/>
<circle cx="393.36" cy="183.91" r="0.55" fill="#3040b0"/>
<circle cx="406.66" cy="174.1" r="0.55" fill="#506090"/>
<circle cx="391.96" cy="182.94" r="0.55" fill="#3040b0"/>
<circle cx="401.87" cy="178.22" r="0.55" fill="#7090c0"/>
<circle cx="412.39" cy="182.43" r="0.55" fill="#506090"/>
<circle cx="404.4" cy="178.6" r="0.55" fill="#c0c8d8"/>
<circle cx="413" cy="180.62" r="0.55" fill="#a0a8c8"/>
<circle cx="407.98" cy="186.2" r="0.55" fill="#3040b0"/>
<circle cx="415.26" cy="182.09" r="0.55" fill="#2a3a80"/>
<circle cx="411.55" cy="185.46" r="0.55" fill="#7090c0"/>
<circle cx="391.77" cy="184.34" r="0.55" fill="#7090c0"/>
<circle cx="408.51" cy="182.03" r="0.55" fill="#c0c8d8"/>
<circle cx="403.28" cy="187.36" r="0.55" fill="#a0a8c8"/>
<circle cx="391.46" cy="179.44" r="0.55" fill="#3040b0"/>
<circle cx="409.13" cy="178.91" r="0.55" fill="#506090"/>
<circle cx="396.66" cy="175.4" r="0.55" fill="#c0c8d8"/>
<circle cx="391.93" cy="184.97" r="0.55" fill="#c0c8d8"/>
<circle cx="406.1" cy="183.63" r="0.55" fill="#c0c8d8"/>
<circle cx="411.13" cy="182.01" r="0.55" fill="#7090c0"/>
<circle cx="393.95" cy="177.07" r="0.55" fill="#7090c0"/>
<circle cx="406.83" cy="186.14" r="0.55" fill="#2a3a80"/>
<circle cx="405.01" cy="182.73" r="0.55" fill="#2a3a80"/>
<circle cx="393.22" cy="180.73" r="0.55" fill="#3040b0"/>
<circle cx="404.97" cy="180.15" r="0.55" fill="#7090c0"/>
<circle cx="400.81" cy="188.16" r="0.55" fill="#c0c8d8"/>
<circle cx="400.66" cy="181.79" r="0.55" fill="#3040b0"/>
<circle cx="393.31" cy="183.53" r="0.55" fill="#c0c8d8"/>
<circle cx="398.21" cy="179.25" r="0.55" fill="#a0a8c8"/>
<circle cx="393.77" cy="183.08" r="0.55" fill="#506090"/>
<circle cx="396.34" cy="181.21" r="0.55" fill="#c0c8d8"/>
<circle cx="411.57" cy="176.1" r="0.55" fill="#a0a8c8"/>
<circle cx="413.4" cy="177.96" r="0.55" fill="#7090c0"/>
<circle cx="405.24" cy="178.96" r="0.55" fill="#3040b0"/>
<circle cx="397.09" cy="184.14" r="0.55" fill="#2a3a80"/>
<circle cx="402.9" cy="183.51" r="0.55" fill="#2a3a80"/>
<circle cx="401.24" cy="183.98" r="0.55" fill="#7090c0"/>
<circle cx="412.23" cy="179.08" r="0.55" fill="#a0a8c8"/>
<circle cx="410.19" cy="187.13" r="0.55" fill="#506090"/>
<circle cx="405.07" cy="188.87" r="0.55" fill="#506090"/>
<circle cx="406.57" cy="179.32" r="0.55" fill="#2a3a80"/>
<circle cx="405.25" cy="178.68" r="0.55" fill="#506090"/>
<circle cx="410.83" cy="181.22" r="0.55" fill="#506090"/>
<circle cx="405.12" cy="185.55" r="0.55" fill="#2a3a80"/>
<circle cx="397.75" cy="184.78" r="0.55" fill="#506090"/>
<circle cx="401.1" cy="181.78" r="0.55" fill="#a0a8c8"/>
<circle cx="395.78" cy="180.94" r="0.55" fill="#3040b0"/>
<circle cx="412.01" cy="186.27" r="0.55" fill="#7090c0"/>
<circle cx="406.78" cy="180.95" r="0.55" fill="#a0a8c8"/>
<circle cx="401.03" cy="188.75" r="0.55" fill="#7090c0"/>
<circle cx="402.11" cy="184.18" r="0.55" fill="#506090"/>
<circle cx="408.86" cy="176.2" r="0.55" fill="#a0a8c8"/>
<circle cx="394.91" cy="184.58" r="0.55" fill="#c0c8d8"/>
<circle cx="393.02" cy="178.6" r="0.55" fill="#3040b0"/>
<circle cx="400.62" cy="188.26" r="0.55" fill="#7090c0"/>
<circle cx="399.63" cy="182.35" r="0.55" fill="#3040b0"/>
<circle cx="395.09" cy="176.18" r="0.55" fill="#3040b0"/>
<circle cx="398.01" cy="179.09" r="0.55" fill="#a0a8c8"/>
<circle cx="408.31" cy="177.41" r="0.55" fill="#a0a8c8"/>
<circle cx="410.97" cy="181.22" r="0.55" fill="#a0a8c8"/>
<circle cx="400.78" cy="180.28" r="0.55" fill="#2a3a80"/>
<circle cx="403.01" cy="183.97" r="0.55" fill="#7090c0"/>
<circle cx="402.29" cy="184.71" r="0.55" fill="#a0a8c8"/>
<circle cx="396.26" cy="177.29" r="0.55" fill="#7090c0"/>
<circle cx="400.45" cy="186.74" r="0.55" fill="#7090c0"/>
<circle cx="401.22" cy="188.33" r="0.55" fill="#a0a8c8"/>
<circle cx="404.39" cy="181.64" r="0.55" fill="#c0c8d8"/>
<circle cx="397.41" cy="180.33" r="0.55" fill="#506090"/>
<circle cx="402.93" cy="186.61" r="0.55" fill="#2a3a80"/>
<circle cx="406.23" cy="176.75" r="0.55" fill="#506090"/>
<circle cx="391.13" cy="179.31" r="0.55" fill="#c0c8d8"/>
<circle cx="400.59" cy="184.78" r="0.55" fill="#7090c0"/>
<circle cx="396.28" cy="187.34" r="0.55" fill="#2a3a80"/>
<circle cx="402.07" cy="178.51" r="0.55" fill="#a0a8c8"/>
<circle cx="414.33" cy="180.59" r="0.55" fill="#3040b0"/>
<circle cx="412.65" cy="184.29" r="0.55" fill="#a0a8c8"/>
<circle cx="399.97" cy="182.17" r="0.55" fill="#2a3a80"/>
<circle cx="409.18" cy="175.29" r="0.55" fill="#2a3a80"/>
<circle cx="412.44" cy="180.3" r="0.55" fill="#2a3a80"/>
<circle cx="400.38" cy="186.49" r="0.55" fill="#7090c0"/>
<circle cx="402.61" cy="181.87" r="0.55" fill="#a0a8c8"/>
<circle cx="414.96" cy="179.57" r="0.55" fill="#c0c8d8"/>
<text x="432.3" y="178.4" style="font-family:'Liberation Serif',serif;font-size:5.1px;font-weight:bold;stroke:#1a1a1a;stroke-width:0.2px" text-anchor="middle" fill="#1a1a1a" >Nucleation</text>
<line x1="420.6" y1="183.1" x2="442" y2="183.1" stroke="#1a1a1a" stroke-width="1.0" />
<path d="M446,183.1 L441.2,181.3 L441.2,184.9Z" fill="#1a1a1a"/>
<text x="432" y="190.6" style="font-family:'Liberation Serif',serif;font-size:4.5px;font-weight:bold;stroke:#1a1a1a;stroke-width:0.2px" text-anchor="middle" fill="#1a1a1a" >Crystal growth</text>
<ellipse cx="453" cy="177" rx="2.15" ry="1.95" fill="#1414f0" stroke="#1a1ab0" stroke-width="0.3"/>
<ellipse cx="459.6" cy="179.2" rx="2.15" ry="1.95" fill="#1414f0" stroke="#1a1ab0" stroke-width="0.3"/>
<ellipse cx="464.1" cy="176.1" rx="2.15" ry="1.95" fill="#1414f0" stroke="#1a1ab0" stroke-width="0.3"/>
<ellipse cx="452.8" cy="183" rx="2.15" ry="1.95" fill="#1414f0" stroke="#1a1ab0" stroke-width="0.3"/>
<ellipse cx="464.1" cy="183.6" rx="2.15" ry="1.95" fill="#1414f0" stroke="#1a1ab0" stroke-width="0.3"/>
<ellipse cx="470.7" cy="184.2" rx="2.15" ry="1.95" fill="#1414f0" stroke="#1a1ab0" stroke-width="0.3"/>
<ellipse cx="458.8" cy="187" rx="2.15" ry="1.95" fill="#1414f0" stroke="#1a1ab0" stroke-width="0.3"/>
<ellipse cx="454.2" cy="190.8" rx="2.15" ry="1.95" fill="#1414f0" stroke="#1a1ab0" stroke-width="0.3"/>
<ellipse cx="467.2" cy="191.3" rx="2.15" ry="1.95" fill="#1414f0" stroke="#1a1ab0" stroke-width="0.3"/>
<text x="485.2" y="178.2" style="font-family:'Liberation Serif',serif;font-size:4.9px;font-weight:bold;stroke:#1a1a1a;stroke-width:0.2px" text-anchor="middle" fill="#1a1a1a" >Further growth</text>
<line x1="476" y1="183.3" x2="493.5" y2="183.3" stroke="#1a1a1a" stroke-width="0.85" />
<path d="M496.4,183.3 L492.4,181.6 L492.4,185Z" fill="#1a1a1a"/>
<ellipse cx="512.7" cy="183.3" rx="12" ry="11" fill="#1414f0" stroke="#1010a0" stroke-width="0.6"/>
<text x="521.2" y="163.8" style="font-family:'Liberation Serif',serif;font-size:4.5px;font-weight:bold;stroke:#1a1a1a;stroke-width:0.2px" text-anchor="middle" fill="#1a1a1a" >Starch</text>
<line x1="519.6" y1="165.6" x2="516.6" y2="170.6" stroke="#1a1a1a" stroke-width="0.65" />
<path d="M515.4,172.8 L515.6,169.2 L518.4,170.8Z" fill="#1a1a1a"/>
<text x="387.6" y="206.7" style="font-family:'Liberation Serif',serif;font-size:4.5px;font-weight:bold;stroke:#1a1a1a;stroke-width:0.2px" text-anchor="middle" fill="#1a1a1a" >Starch</text>
<line x1="395.9" y1="205.2" x2="409.5" y2="205.2" stroke="#9060c0" stroke-width="0.9" />
<line x1="410" y1="205.2" x2="423.6" y2="200.4" stroke="#222" stroke-width="0.6" />
<line x1="410" y1="205.2" x2="423.6" y2="210.3" stroke="#222" stroke-width="0.6" />
<path d="M425.2,199.8 L421.8,199.9 L422.8,202.2Z" fill="#222"/>
<path d="M425.2,210.9 L422.8,208.4 L421.8,210.8Z" fill="#222"/>
<path d="M413.6,202.6 q-2.4,2.6 0,5.2" stroke="#222" stroke-width="0.5" fill="none"/>
<text x="419.4" y="206.8" style="font-family:'Liberation Serif',serif;font-size:4.5px;font-weight:bold;stroke:#1a1a1a;stroke-width:0.2px" text-anchor="middle" fill="#1a1a1a" >H<tspan dy="0.8" style="font-size:2.8px">2</tspan><tspan dy="-0.8">O</tspan></text>
<line x1="425.4" y1="199.6" x2="433" y2="199.6" stroke="#c8c890" stroke-width="0.8" />
<line x1="425.4" y1="210.9" x2="433" y2="210.9" stroke="#c8c890" stroke-width="0.8" />
<text x="434.8" y="201.4" style="font-family:'Liberation Serif',serif;font-size:4.3px;font-weight:bold;stroke:#1a1a1a;stroke-width:0.2px" text-anchor="start" fill="#1a1a1a" >Glucose</text>
<text x="434.8" y="212" style="font-family:'Liberation Serif',serif;font-size:4.3px;font-weight:bold;stroke:#1a1a1a;stroke-width:0.2px" text-anchor="start" fill="#1a1a1a" >Levulose</text>
<text x="417" y="217.6" style="font-family:'Liberation Serif',serif;font-size:4.2px;font-weight:bold;stroke:#1a1a1a;stroke-width:0.2px" text-anchor="middle" fill="#1a1a1a" >Hydrolysis</text>
<text x="464" y="202.2" style="font-family:'Liberation Serif',serif;font-size:4.2px;font-weight:bold;stroke:#1a1a1a;stroke-width:0.2px" text-anchor="middle" fill="#1a1a1a" >H<tspan dy="0.8" style="font-size:2.8px">2</tspan><tspan dy="-0.8">O</tspan></text>
<line x1="455" y1="205.6" x2="475.8" y2="205.6" stroke="#1a1a1a" stroke-width="0.85" />
<path d="M478.6,205.6 L474.6,204 L474.6,207.2Z" fill="#1a1a1a"/>
<text x="466.5" y="218.3" style="font-family:'Liberation Serif',serif;font-size:4.2px;font-weight:bold;stroke:#1a1a1a;stroke-width:0.2px" text-anchor="middle" fill="#1a1a1a" >Polymerization</text>
<circle cx="486" cy="205.4" r="4.4" fill="#1414f0" stroke="#1010a0" stroke-width="0.4"/>
<line x1="482.2" y1="201.6" x2="474.6" y2="195.6" stroke="#1a1a1a" stroke-width="0.75" />
<path d="M472.4,194 L476.8,195.2 L474.6,197.8Z" fill="#1a1a1a"/>
<line x1="512.7" y1="194.3" x2="512.7" y2="229" stroke="#1a1a1a" stroke-width="0.85" />
<path d="M512.7,234 L510.6,228.6 L514.8,228.6Z" fill="#1a1a1a"/>
<text x="514.2" y="209.1" style="font-family:'Liberation Serif',serif;font-size:4.75px;font-weight:bold;stroke:#1a1a1a;stroke-width:0.2px" text-anchor="start" fill="#1a1a1a" >Stirring with</text>
<text x="514.4" y="217.9" style="font-family:'Liberation Serif',serif;font-size:5.1px;font-weight:bold;stroke:#1a1a1a;stroke-width:0.2px" text-anchor="start" fill="#1a1a1a" >Phenolic Resin</text>
<line x1="524.92" y1="254.64" x2="528.66" y2="255.25" stroke="#3c3c3c" stroke-width="1.05" />
<polyline points="528.66,255.25 529.25,256.36 529.58,257.53 529.25,258.7 530.38,259.48 531.66,260.11 532.22,261.22 532.74,262.35 532.61,263.55 533.72,264.36 534.98,265.01 536.47,265.12 537.95,265.33 539.38,265.68" stroke="#a0a098" stroke-width="0.55" fill="none" stroke-linejoin="round" stroke-linecap="round" />
<line x1="538.48" y1="265.68" x2="540.28" y2="265.68" stroke="#444" stroke-width="0.85" />
<line x1="532.04" y1="262.05" x2="533.44" y2="262.65" stroke="#555" stroke-width="0.7" />
<polyline points="528.66,255.25 529.47,256.26 530.91,256.6 532.01,257.42 533.51,257.48 534.96,257.79 536.37,257.38 537.12,256.34 538.59,256.09 539.83,255.42" stroke="#a0a098" stroke-width="0.55" fill="none" stroke-linejoin="round" stroke-linecap="round" />
<line x1="538.93" y1="255.42" x2="540.73" y2="255.42" stroke="#444" stroke-width="0.85" />
<line x1="522.47" y1="259.67" x2="525.44" y2="261.88" stroke="#3c3c3c" stroke-width="1.05" />
<polyline points="525.44,261.88 526.01,262.99 526.32,264.16 527.41,264.98 527.6,266.17 527.57,267.37 526.74,268.37 525.55,269.1 525.2,270.27 525.52,271.44" stroke="#a0a098" stroke-width="0.55" fill="none" stroke-linejoin="round" stroke-linecap="round" />
<line x1="524.62" y1="271.44" x2="526.42" y2="271.44" stroke="#444" stroke-width="0.85" />
<line x1="526.87" y1="267.07" x2="528.27" y2="267.67" stroke="#555" stroke-width="0.7" />
<polyline points="525.44,261.88 526.64,262.6 528.12,262.43 529.55,262.8 531.04,262.94 532.54,262.85 533.78,263.52 535.04,264.17" stroke="#a0a098" stroke-width="0.55" fill="none" stroke-linejoin="round" stroke-linecap="round" />
<line x1="534.14" y1="264.17" x2="535.94" y2="264.17" stroke="#444" stroke-width="0.85" />
<line x1="530.34" y1="262.64" x2="531.74" y2="263.24" stroke="#555" stroke-width="0.7" />
<line x1="518.1" y1="262.84" x2="519.68" y2="266.06" stroke="#3c3c3c" stroke-width="1.05" />
<polyline points="519.68,266.06 520.69,266.95 521.1,268.1 520.74,269.26 521.66,270.21 521.89,271.4 522.51,272 522.95,272" stroke="#a0a098" stroke-width="0.55" fill="none" stroke-linejoin="round" stroke-linecap="round" />
<line x1="522.05" y1="272" x2="523.85" y2="272" stroke="#444" stroke-width="0.85" />
<line x1="520.96" y1="269.91" x2="522.36" y2="270.51" stroke="#555" stroke-width="0.7" />
<polyline points="519.68,266.06 520.38,267.12 520.46,268.32 519.68,269.34 518.36,269.92 517.62,270.97 517.48,272 517.44,272 516.88,272" stroke="#a0a098" stroke-width="0.55" fill="none" stroke-linejoin="round" stroke-linecap="round" />
<line x1="515.98" y1="272" x2="517.78" y2="272" stroke="#444" stroke-width="0.85" />
<line x1="512.64" y1="263.85" x2="512.49" y2="267.38" stroke="#3c3c3c" stroke-width="1.05" />
<polyline points="512.49,267.38 512.04,268.53 512.62,269.63 513.43,270.64 513.83,271.8 513.16,272 512.98,272 511.92,272 510.95,272 510.54,272 510.64,272 511.44,272 512.79,272 514.28,272 515.4,272" stroke="#a0a098" stroke-width="0.55" fill="none" stroke-linejoin="round" stroke-linecap="round" />
<line x1="511.22" y1="271.7" x2="512.62" y2="272.3" stroke="#555" stroke-width="0.7" />
<polyline points="512.49,267.38 511.69,268.4 511.24,269.54 511.5,270.73 511.46,271.93 510.68,272 510.13,272 509.86,272" stroke="#a0a098" stroke-width="0.55" fill="none" stroke-linejoin="round" stroke-linecap="round" />
<line x1="508.96" y1="272" x2="510.76" y2="272" stroke="#444" stroke-width="0.85" />
<line x1="509.15" y1="263.24" x2="507.89" y2="266.57" stroke="#3c3c3c" stroke-width="1.05" />
<polyline points="507.89,266.57 507.79,267.77 507.08,268.83 505.69,269.28 504.28,269.69 502.79,269.77 501.89,270.73 501.2,271.8 501.37,272 500.62,272 500.37,272 500.19,272" stroke="#a0a098" stroke-width="0.55" fill="none" stroke-linejoin="round" stroke-linecap="round" />
<polyline points="507.89,266.57 507.49,267.73 506.58,268.68 505.79,269.7 505.53,270.88 505.44,272 506.1,272 506.81,272 506.15,272 504.78,272 503.38,272 502.09,272 501.21,272 501.33,272 501.87,272 501.53,272" stroke="#a0a098" stroke-width="0.55" fill="none" stroke-linejoin="round" stroke-linecap="round" />
<line x1="505.45" y1="271.7" x2="506.85" y2="272.3" stroke="#555" stroke-width="0.7" />
<line x1="503.09" y1="258.86" x2="499.92" y2="260.81" stroke="#3c3c3c" stroke-width="1.05" />
<polyline points="499.92,260.81 498.44,260.97 496.96,260.74 495.49,260.96 493.99,260.88 492.62,261.37 491.28,261.91 489.79,261.99 488.3,261.83 486.89,262.22 485.46,261.84 484.07,261.39 482.65,261.01 481.45,261.73" stroke="#a0a098" stroke-width="0.55" fill="none" stroke-linejoin="round" stroke-linecap="round" />
<line x1="480.55" y1="261.73" x2="482.35" y2="261.73" stroke="#444" stroke-width="0.85" />
<line x1="489.09" y1="261.69" x2="490.49" y2="262.29" stroke="#555" stroke-width="0.7" />
<polyline points="499.92,260.81 498.43,260.94 496.93,260.91 495.54,260.46 494.04,260.53 492.55,260.44 491.12,260.07 489.94,259.33 488.46,259.12 487.2,258.47 486.31,257.51 485.41,256.54 485.14,255.36" stroke="#a0a098" stroke-width="0.55" fill="none" stroke-linejoin="round" stroke-linecap="round" />
<line x1="490.42" y1="259.77" x2="491.82" y2="260.37" stroke="#555" stroke-width="0.7" />
<line x1="501.43" y1="255.31" x2="497.74" y2="256.13" stroke="#3c3c3c" stroke-width="1.05" />
<polyline points="497.74,256.13 496.68,255.28 495.4,254.66 494.25,253.89 493.27,252.98 492.47,251.96 491.01,251.68 489.77,251.01 488.49,250.38" stroke="#a0a098" stroke-width="0.55" fill="none" stroke-linejoin="round" stroke-linecap="round" />
<line x1="487.59" y1="250.38" x2="489.39" y2="250.38" stroke="#444" stroke-width="0.85" />
<line x1="492.57" y1="252.68" x2="493.97" y2="253.28" stroke="#555" stroke-width="0.7" />
<polyline points="497.74,256.13 496.28,255.84 494.97,255.26 493.59,255.73 492.67,256.68 491.7,257.59 490.39,258.17 489.45,259.11 488.12,259.65 486.65,259.91 485.78,260.89 484.79,261.79 484.2,262.89" stroke="#a0a098" stroke-width="0.55" fill="none" stroke-linejoin="round" stroke-linecap="round" />
<line x1="483.3" y1="262.89" x2="485.1" y2="262.89" stroke="#444" stroke-width="0.85" />
<line x1="489.69" y1="257.87" x2="491.09" y2="258.47" stroke="#555" stroke-width="0.7" />
<line x1="501.19" y1="251.34" x2="497.42" y2="250.91" stroke="#3c3c3c" stroke-width="1.05" />
<polyline points="497.42,250.91 496.5,251.86 495.42,252.69 494.35,253.54 492.98,254.03 491.5,254.22 490.21,254.83 488.75,254.54 487.49,255.19" stroke="#a0a098" stroke-width="0.55" fill="none" stroke-linejoin="round" stroke-linecap="round" />
<line x1="486.59" y1="255.19" x2="488.39" y2="255.19" stroke="#444" stroke-width="0.85" />
<line x1="492.28" y1="253.73" x2="493.68" y2="254.33" stroke="#555" stroke-width="0.7" />
<polyline points="497.42,250.91 495.98,250.58 494.48,250.52 493.31,251.27 491.9,251.67 490.96,252.61 489.73,253.3 488.61,254.1 487.25,254.6 485.88,254.11 484.9,253.2" stroke="#a0a098" stroke-width="0.55" fill="none" stroke-linejoin="round" stroke-linecap="round" />
<line x1="484" y1="253.2" x2="485.8" y2="253.2" stroke="#444" stroke-width="0.85" />
<line x1="503.45" y1="246.06" x2="500.4" y2="243.96" stroke="#3c3c3c" stroke-width="1.05" />
<polyline points="500.4,243.96 499.04,243.44 497.8,242.78 497.44,241.61 497.98,240.49 498.39,239.34 498.09,238.17 498.51,237.01 497.48,236.14 496,235.96 494.59,235.55" stroke="#a0a098" stroke-width="0.55" fill="none" stroke-linejoin="round" stroke-linecap="round" />
<line x1="493.69" y1="235.55" x2="495.49" y2="235.55" stroke="#444" stroke-width="0.85" />
<line x1="497.69" y1="239.04" x2="499.09" y2="239.64" stroke="#555" stroke-width="0.7" />
<polyline points="500.4,243.96 499.37,243.09 498.19,242.35 496.73,242.08 495.23,242.11 494.25,241.2 493.04,240.5 492.73,239.32 493.19,238.18 493.51,237.01 492.93,235.9 493.32,234.74 493.34,233.54" stroke="#a0a098" stroke-width="0.55" fill="none" stroke-linejoin="round" stroke-linecap="round" />
<line x1="492.44" y1="233.54" x2="494.24" y2="233.54" stroke="#444" stroke-width="0.85" />
<line x1="492.34" y1="240.2" x2="493.74" y2="240.8" stroke="#555" stroke-width="0.7" />
<line x1="508.26" y1="242.49" x2="506.72" y2="239.26" stroke="#3c3c3c" stroke-width="1.05" />
<polyline points="506.72,239.26 505.81,238.31 504.4,237.89 503.26,237.1 502.13,236.32 500.79,235.78 500.05,234.74 500.09,233.54 498.97,233 498,233 496.73,233 496.45,233" stroke="#a0a098" stroke-width="0.55" fill="none" stroke-linejoin="round" stroke-linecap="round" />
<line x1="495.55" y1="233" x2="497.35" y2="233" stroke="#444" stroke-width="0.85" />
<line x1="499.35" y1="234.44" x2="500.75" y2="235.04" stroke="#555" stroke-width="0.7" />
<polyline points="506.72,239.26 506.77,238.06 506.21,236.95 505.88,235.77 505.44,234.63 505.31,233.43 505.32,233 505.79,233 505.15,233 505.12,233" stroke="#a0a098" stroke-width="0.55" fill="none" stroke-linejoin="round" stroke-linecap="round" />
<line x1="504.22" y1="233" x2="506.02" y2="233" stroke="#444" stroke-width="0.85" />
<line x1="504.61" y1="233.13" x2="506.01" y2="233.73" stroke="#555" stroke-width="0.7" />
<line x1="511.36" y1="241.66" x2="510.81" y2="238.16" stroke="#3c3c3c" stroke-width="1.05" />
<polyline points="510.81,238.16 510.56,236.98 509.98,235.87 510.06,234.67 510.3,233.49 509.39,233 508.18,233 507.05,233 506.98,233 507.77,233" stroke="#a0a098" stroke-width="0.55" fill="none" stroke-linejoin="round" stroke-linecap="round" />
<line x1="506.87" y1="233" x2="508.67" y2="233" stroke="#444" stroke-width="0.85" />
<line x1="508.69" y1="232.7" x2="510.09" y2="233.3" stroke="#555" stroke-width="0.7" />
<polyline points="510.81,238.16 510.67,236.97 511.02,235.8 511.55,234.68 511.9,233.51 512.99,233 513.64,233 513.86,233 514.78,233 514.79,233 514.28,233 514.61,233 513.83,233 513.94,233" stroke="#a0a098" stroke-width="0.55" fill="none" stroke-linejoin="round" stroke-linecap="round" />
<line x1="513.04" y1="233" x2="514.84" y2="233" stroke="#444" stroke-width="0.85" />
<line x1="513.16" y1="232.7" x2="514.56" y2="233.3" stroke="#555" stroke-width="0.7" />
<line x1="516.01" y1="241.87" x2="516.93" y2="238.44" stroke="#3c3c3c" stroke-width="1.05" />
<polyline points="516.93,238.44 517.03,237.25 517.13,236.05 517.41,234.87 517.69,233.69 517.59,233 516.79,233 516.4,233 516.9,233 516.36,233 515.41,233 515.44,233 516.19,233 517.2,233" stroke="#a0a098" stroke-width="0.55" fill="none" stroke-linejoin="round" stroke-linecap="round" />
<line x1="516.3" y1="233" x2="518.1" y2="233" stroke="#444" stroke-width="0.85" />
<polyline points="516.93,238.44 518.23,237.84 518.47,236.66 519.47,235.76 519.74,234.58 520.36,233.49 521.71,233 523.14,233 523.85,233 524.01,233 525.09,233 525.29,233 525.78,233 526.04,233 525.52,233 525.47,233" stroke="#a0a098" stroke-width="0.55" fill="none" stroke-linejoin="round" stroke-linecap="round" />
<line x1="524.57" y1="233" x2="526.37" y2="233" stroke="#444" stroke-width="0.85" />
<line x1="523.15" y1="232.7" x2="524.55" y2="233.3" stroke="#555" stroke-width="0.7" />
<line x1="520.95" y1="244.26" x2="523.44" y2="241.59" stroke="#3c3c3c" stroke-width="1.05" />
<polyline points="523.44,241.59 524.04,240.49 525.17,239.7 526.66,239.54 527.63,238.63 528.47,237.63 528.95,236.5 529.75,235.48" stroke="#a0a098" stroke-width="0.55" fill="none" stroke-linejoin="round" stroke-linecap="round" />
<line x1="528.85" y1="235.48" x2="530.65" y2="235.48" stroke="#444" stroke-width="0.85" />
<polyline points="523.44,241.59 524.29,240.6 524.39,239.4 524.98,238.3 525.67,237.24 527.06,236.78 528.44,236.32 529.88,235.97 530.94,235.12 532.07,234.33 532.7,233.24" stroke="#a0a098" stroke-width="0.55" fill="none" stroke-linejoin="round" stroke-linecap="round" />
<line x1="531.8" y1="233.24" x2="533.6" y2="233.24" stroke="#444" stroke-width="0.85" />
<line x1="526.36" y1="236.48" x2="527.76" y2="237.08" stroke="#555" stroke-width="0.7" />
<line x1="523.87" y1="247.78" x2="527.28" y2="246.22" stroke="#3c3c3c" stroke-width="1.05" />
<polyline points="527.28,246.22 528.75,245.98 529.83,245.15 531.24,244.73 532.72,244.57 533.7,243.66 535.01,243.07 535.61,241.97 535.55,240.77" stroke="#a0a098" stroke-width="0.55" fill="none" stroke-linejoin="round" stroke-linecap="round" />
<line x1="534.65" y1="240.77" x2="536.45" y2="240.77" stroke="#444" stroke-width="0.85" />
<line x1="532.02" y1="244.27" x2="533.42" y2="244.87" stroke="#555" stroke-width="0.7" />
<polyline points="527.28,246.22 528.37,245.4 529.83,245.13 530.62,244.11 531.9,243.48 532.38,242.35 532.26,241.15 533.42,240.39 534.83,239.98 535.86,239.11 536.18,237.93 537.55,237.44 539.03,237.25 540.47,237.59 541.83,237.09" stroke="#a0a098" stroke-width="0.55" fill="none" stroke-linejoin="round" stroke-linecap="round" />
<line x1="540.93" y1="237.09" x2="542.73" y2="237.09" stroke="#444" stroke-width="0.85" />
<line x1="532.72" y1="240.09" x2="534.12" y2="240.69" stroke="#555" stroke-width="0.7" />
<ellipse cx="513.1" cy="252.7" rx="11.7" ry="10.9" fill="#1414f0"/>
<text x="458.6" y="230.1" style="font-family:'Liberation Serif',serif;font-size:4.7px;font-weight:bold;stroke:#1a1a1a;stroke-width:0.2px" text-anchor="middle" fill="#1a1a1a" >Oxygen "bridge"</text>
<path d="M443.5,241.5 q2,-3 4,-2 t4,-2.5" stroke="#c0c0a8" stroke-width="0.7" fill="none"/>
<text x="454.4" y="237.8" style="font-family:'Liberation Serif',serif;font-size:6.2px;font-weight:bold;stroke:#1a1a1a;stroke-width:0.2px" text-anchor="middle" fill="#1a1a1a" >O</text>
<line x1="457.8" y1="235.7" x2="463.8" y2="235.7" stroke="#1a1a1a" stroke-width="0.7" />
<circle cx="466.8" cy="235.7" r="3.1" fill="#1414f0"/>
<line x1="453" y1="240.6" x2="448.8" y2="244.6" stroke="#1a1a1a" stroke-width="0.7" />
<path d="M447.4,246.2 L448.2,242.8 L450.6,245Z" fill="#1a1a1a"/>
<line x1="485" y1="255.3" x2="466.2" y2="255.3" stroke="#1a1a1a" stroke-width="0.85" />
<path d="M463.2,255.3 L467.2,253.6 L467.2,257Z" fill="#1a1a1a"/>
<text x="469.5" y="263.8" style="font-family:'Liberation Serif',serif;font-size:5.2px;font-weight:bold;stroke:#1a1a1a;stroke-width:0.2px" text-anchor="middle" fill="#1a1a1a" >Cooling</text>
<text x="469.8" y="271.9" style="font-family:'Liberation Serif',serif;font-size:5.3px;font-weight:bold;stroke:#1a1a1a;stroke-width:0.22px" text-anchor="middle" fill="#1a1a1a" >process</text>
<defs><radialGradient id="fz"><stop offset="0.8" stop-color="#1414f0"/><stop offset="0.92" stop-color="#5050f0"/><stop offset="1" stop-color="#c8c8ff" stop-opacity="0"/></radialGradient></defs>
<ellipse cx="443.3" cy="255" rx="11.9" ry="11.8" fill="url(#fz)"/>
<text x="417.2" y="250.1" style="font-family:'Liberation Serif',serif;font-size:5.1px;font-weight:bold;stroke:#1a1a1a;stroke-width:0.2px" text-anchor="middle" fill="#1a1a1a" >Calcining</text>
<line x1="428.7" y1="254.4" x2="410.4" y2="254.4" stroke="#1a1a1a" stroke-width="0.85" />
<path d="M407,254.4 L411,252.7 L411,256.1Z" fill="#1a1a1a"/>
<circle cx="392.2" cy="253.4" r="9.6" fill="#1414f0" stroke="#0a0a70" stroke-width="0.9"/>
<line x1="384.7" y1="261.9" x2="379" y2="268.4" stroke="#4a5a3a" stroke-width="0.65" />
<line x1="400.6" y1="261.9" x2="407.2" y2="268.4" stroke="#4a5a3a" stroke-width="0.65" />
<text x="379.5" y="276.4" style="font-family:'Liberation Serif',serif;font-size:8.3px;font-weight:bold;stroke:#1a1a1a;stroke-width:0.2px" text-anchor="middle" fill="#1a1a1a" >Carbon</text>
<text x="420.5" y="276.4" style="font-family:'Liberation Serif',serif;font-size:8.2px;font-weight:bold;stroke:#1a1a1a;stroke-width:0.2px" text-anchor="middle" fill="#1a1a1a" >Polyacene</text>
</svg>
</body></html>
